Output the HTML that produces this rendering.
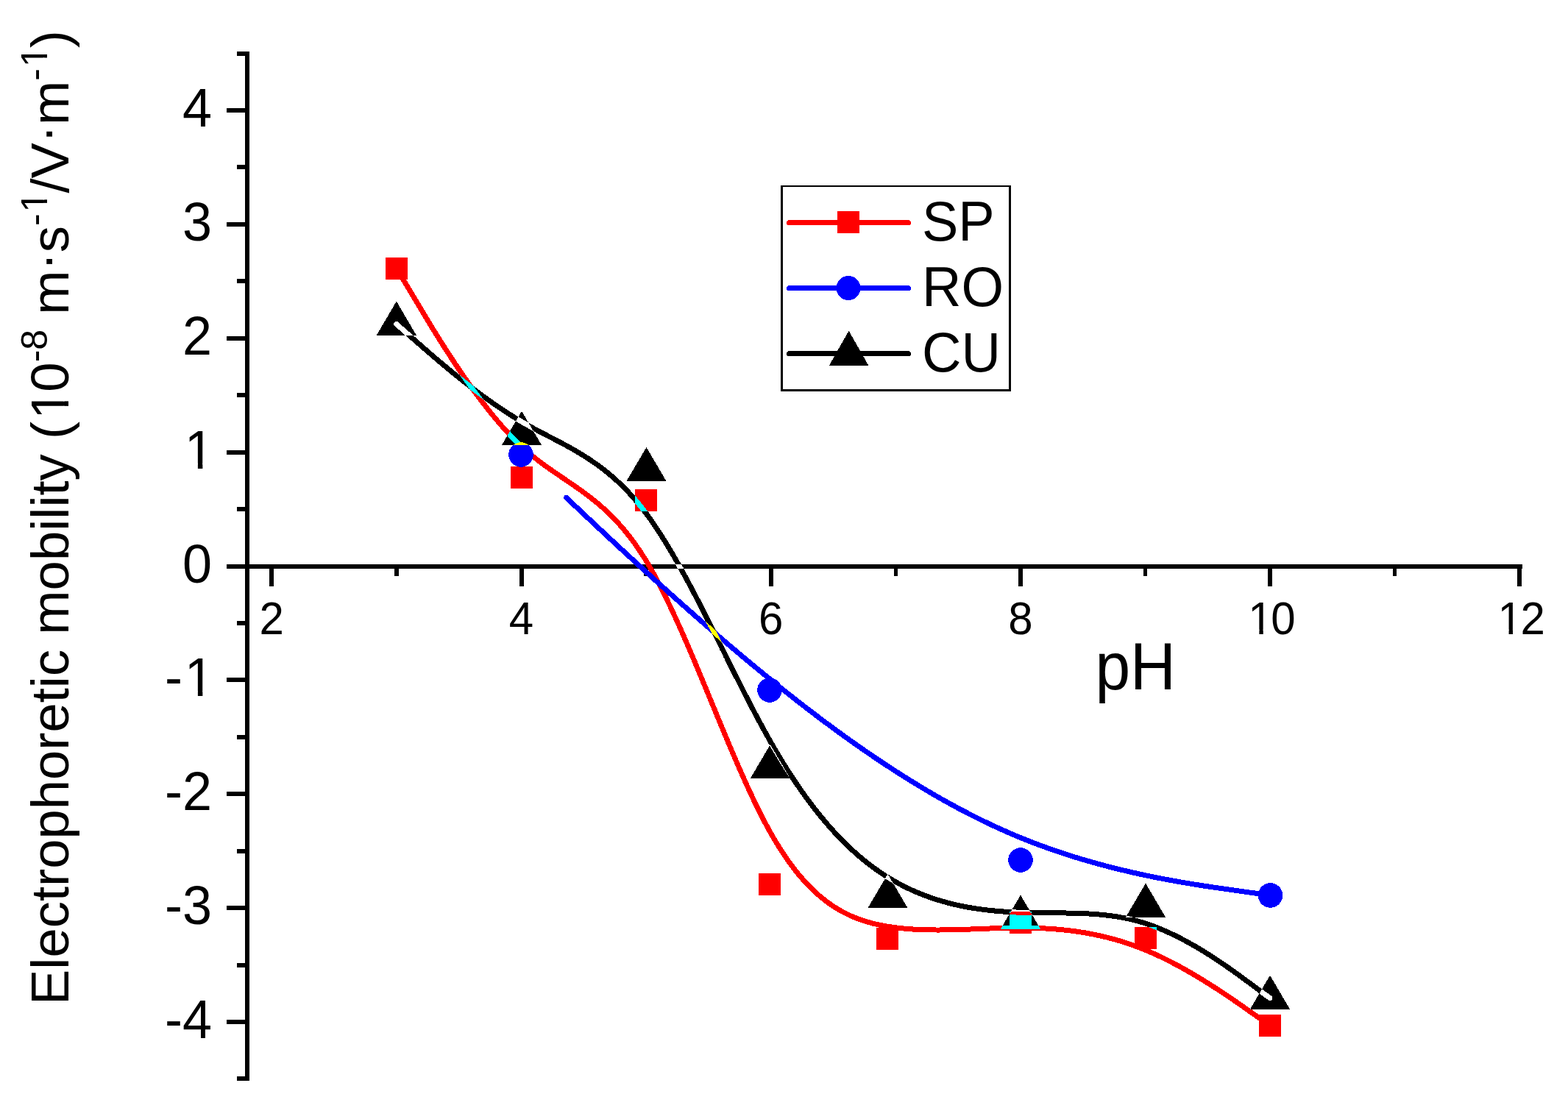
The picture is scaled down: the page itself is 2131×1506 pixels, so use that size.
<!DOCTYPE html><html><head><meta charset="utf-8"><style>
html,body{margin:0;padding:0;background:#fff;overflow:hidden;width:2131px;height:1506px;}
svg{display:block;} path,circle,line,rect{shape-rendering:crispEdges;}
text{font-family:"Liberation Sans",Arial,sans-serif;fill:#000;}
.x{mix-blend-mode:difference;}
</style></head><body>
<svg width="2131" height="1506" viewBox="0 0 2131 1506">
<rect x="0" y="0" width="2131" height="1506" fill="#fff"/>
<g fill="#000" shape-rendering="crispEdges"><rect x="333" y="70" width="6" height="1399"/><rect x="308" y="1386.0" width="25" height="6"/><rect x="308" y="1231.1" width="25" height="6"/><rect x="308" y="1076.2" width="25" height="6"/><rect x="308" y="921.4" width="25" height="6"/><rect x="308" y="766.5" width="25" height="6"/><rect x="308" y="611.6" width="25" height="6"/><rect x="308" y="456.8" width="25" height="6"/><rect x="308" y="301.9" width="25" height="6"/><rect x="308" y="147.0" width="25" height="6"/><rect x="322" y="1463.4" width="11" height="6"/><rect x="322" y="1308.6" width="11" height="6"/><rect x="322" y="1153.7" width="11" height="6"/><rect x="322" y="998.8" width="11" height="6"/><rect x="322" y="843.9" width="11" height="6"/><rect x="322" y="689.1" width="11" height="6"/><rect x="322" y="534.2" width="11" height="6"/><rect x="322" y="379.3" width="11" height="6"/><rect x="322" y="224.4" width="11" height="6"/><rect x="322" y="69.6" width="11" height="6"/><rect x="336" y="767" width="1733" height="6"/><rect x="366.3" y="773" width="6" height="24"/><rect x="705.5" y="773" width="6" height="24"/><rect x="1044.7" y="773" width="6" height="24"/><rect x="1383.9" y="773" width="6" height="24"/><rect x="1723.1" y="773" width="6" height="24"/><rect x="2062.3" y="773" width="6" height="24"/><rect x="536.1" y="773" width="5.5" height="10"/><rect x="875.3" y="773" width="5.5" height="10"/><rect x="1214.5" y="773" width="5.5" height="10"/><rect x="1553.8" y="773" width="5.5" height="10"/><rect x="1892.9" y="773" width="5.5" height="10"/></g>
<text transform="translate(288.00,1411.00) scale(1,1.020)" font-size="72.00" text-anchor="end">-4</text>
<text transform="translate(288.00,1256.12) scale(1,1.020)" font-size="72.00" text-anchor="end">-3</text>
<text transform="translate(288.00,1101.25) scale(1,1.020)" font-size="72.00" text-anchor="end">-2</text>
<text transform="translate(290.88,946.38) scale(1,1.020)" font-size="72.00" text-anchor="end">-<tspan dx="2.88">1</tspan></text>
<text transform="translate(288.00,791.50) scale(1,1.020)" font-size="72.00" text-anchor="end">0</text>
<text transform="translate(290.88,636.62) scale(1,1.020)" font-size="72.00" text-anchor="end">1</text>
<text transform="translate(288.00,481.75) scale(1,1.020)" font-size="72.00" text-anchor="end">2</text>
<text transform="translate(288.00,326.88) scale(1,1.020)" font-size="72.00" text-anchor="end">3</text>
<text transform="translate(288.00,172.00) scale(1,1.020)" font-size="72.00" text-anchor="end">4</text>
<text transform="translate(369.30,862.00) scale(1,1.040)" font-size="60.00" text-anchor="middle">2</text>
<text transform="translate(708.50,862.00) scale(1,1.040)" font-size="60.00" text-anchor="middle">4</text>
<text transform="translate(1047.70,862.00) scale(1,1.040)" font-size="60.00" text-anchor="middle">6</text>
<text transform="translate(1386.90,862.00) scale(1,1.040)" font-size="60.00" text-anchor="middle">8</text>
<text transform="translate(1726.10,862.00) scale(1,1.040)" font-size="60.00" text-anchor="middle"><tspan dx="2.40">1</tspan><tspan dx="-2.40">0</tspan></text>
<text transform="translate(2065.30,862.00) scale(1,1.040)" font-size="60.00" text-anchor="middle"><tspan dx="2.40">1</tspan><tspan dx="-2.40">2</tspan></text>
<text transform="translate(1488.40,937.00) scale(1,1.050)" font-size="85.70">pH</text>
<text transform="translate(93,1366) rotate(-90)" font-size="72.45">Electrophoretic mobility (<tspan dx="2.9">1</tspan><tspan dx="-2.9">0</tspan><tspan font-size="50" dy="-29">-8</tspan><tspan dy="29"> m</tspan><tspan dy="-5.6">·</tspan><tspan dy="5.6">s</tspan><tspan font-size="50" dy="-29">-</tspan><tspan font-size="50" dx="2">1</tspan><tspan dx="-2" dy="29">/V</tspan><tspan dy="-5.6">·</tspan><tspan dy="5.6">m</tspan><tspan font-size="50" dy="-29">-</tspan><tspan font-size="50" dx="2">1</tspan><tspan dx="-2" dy="29">)</tspan></text>
<g fill="#fff"><polygon points="254.31,939.26 268.89,939.26 268.89,947.91 254.31,947.91"/><polygon points="275.35,939.26 289.36,939.26 289.36,947.91 275.35,947.91"/><polygon points="254.31,629.50 268.89,629.50 268.89,638.15 254.31,638.15"/><polygon points="275.35,629.50 289.36,629.50 289.36,638.15 275.35,638.15"/><polygon points="1698.90,855.67 1711.37,855.67 1711.37,863.56 1698.90,863.56"/><polygon points="1716.77,855.67 1728.77,855.67 1728.77,863.56 1716.77,863.56"/><polygon points="2038.10,855.67 2050.57,855.67 2050.57,863.56 2038.10,863.56"/><polygon points="2055.97,855.67 2067.97,855.67 2067.97,863.56 2055.97,863.56"/><polygon points="85.99,566.50 85.99,551.85 94.50,551.85 94.50,566.50"/><polygon points="85.99,545.35 85.99,531.26 94.50,531.26 94.50,545.35"/><polygon points="58.66,286.58 58.66,275.87 65.50,275.87 65.50,286.58"/><polygon points="58.66,271.35 58.66,261.02 65.50,261.02 65.50,271.35"/><polygon points="58.66,89.19 58.66,78.47 65.50,78.47 65.50,89.19"/><polygon points="58.66,73.95 58.66,63.63 65.50,63.63 65.50,73.95"/></g>
<path d="M539.00 365.00 L539.00 365.00 L539.00 365.00 L539.00 365.00 L539.00 365.00 L539.00 365.00 L539.00 365.00 L539.00 365.01 L539.01 365.01 L539.01 365.01 L539.01 365.02 L539.02 365.03 L539.02 365.03 L539.03 365.04 L539.03 365.05 L539.04 365.07 L539.05 365.08 L539.06 365.10 L539.07 365.12 L539.08 365.14 L539.10 365.16 L539.11 365.19 L539.13 365.21 L539.15 365.24 L539.17 365.28 L539.19 365.31 L539.21 365.35 L539.24 365.39 L539.26 365.44 L539.29 365.49 L539.32 365.54 L539.36 365.60 L539.39 365.66 L539.43 365.72 L539.47 365.79 L539.51 365.86 L539.56 365.93 L539.61 366.01 L539.66 366.10 L539.71 366.19 L539.77 366.28 L539.83 366.38 L539.89 366.48 L539.95 366.59 L540.02 366.71 L540.09 366.82 L540.17 366.95 L540.24 367.08 L540.33 367.21 L540.41 367.36 L540.50 367.50 L540.59 367.66 L540.68 367.81 L540.78 367.98 L540.89 368.15 L540.99 368.33 L541.10 368.52 L541.22 368.71 L541.34 368.91 L541.46 369.11 L541.59 369.32 L541.72 369.54 L541.86 369.77 L542.00 370.01 L542.14 370.25 L542.29 370.50 L542.45 370.76 L542.60 371.02 L542.77 371.29 L542.94 371.58 L543.11 371.87 L543.29 372.16 L543.47 372.47 L543.66 372.79 L543.86 373.11 L544.06 373.45 L544.26 373.79 L544.47 374.14 L544.69 374.50 L544.91 374.87 L545.14 375.25 L545.37 375.64 L545.61 376.04 L545.85 376.45 L546.10 376.87 L546.36 377.29 L546.62 377.73 L546.89 378.18 L547.17 378.64 L547.45 379.11 L547.74 379.59 L548.03 380.09 L548.33 380.59 L548.64 381.10 L548.95 381.63 L549.27 382.16 L549.60 382.71 L549.94 383.27 L550.28 383.84 L550.63 384.42 L550.98 385.02 L551.35 385.63 L551.72 386.24 L552.09 386.88 L552.48 387.52 L552.87 388.17 L553.27 388.84 L553.68 389.52 L554.10 390.22 L554.52 390.92 L554.95 391.64 L555.39 392.38 L555.84 393.12 L556.29 393.89 L556.75 394.66 L557.22 395.45 L557.70 396.25 L558.19 397.06 L558.69 397.89 L559.19 398.73 L559.71 399.59 L560.23 400.46 L560.76 401.35 L561.30 402.25 L561.85 403.17 L562.40 404.10 L562.97 405.05 L563.55 406.01 L564.13 406.98 L564.72 407.97 L565.33 408.98 L565.94 410.00 L566.56 411.04 L567.19 412.10 L567.83 413.17 L568.48 414.25 L569.14 415.36 L569.81 416.47 L570.49 417.60 L571.18 418.75 L571.87 419.91 L572.58 421.09 L573.29 422.28 L574.02 423.48 L574.75 424.70 L575.49 425.94 L576.24 427.18 L577.00 428.44 L577.77 429.71 L578.54 430.99 L579.33 432.29 L580.12 433.60 L580.92 434.92 L581.73 436.25 L582.55 437.59 L583.38 438.95 L584.21 440.32 L585.05 441.69 L585.90 443.08 L586.76 444.48 L587.62 445.89 L588.49 447.30 L589.37 448.73 L590.26 450.17 L591.16 451.61 L592.06 453.07 L592.97 454.53 L593.88 456.01 L594.81 457.49 L595.74 458.98 L596.68 460.47 L597.62 461.98 L598.57 463.49 L599.53 465.01 L600.50 466.54 L601.47 468.07 L602.45 469.61 L603.43 471.15 L604.42 472.71 L605.42 474.26 L606.42 475.83 L607.43 477.39 L608.45 478.97 L609.47 480.55 L610.50 482.13 L611.54 483.72 L612.58 485.31 L613.62 486.91 L614.67 488.51 L615.73 490.11 L616.79 491.72 L617.86 493.33 L618.93 494.94 L620.01 496.55 L621.10 498.17 L622.19 499.79 L623.28 501.41 L624.38 503.04 L625.48 504.66 L626.59 506.29 L627.71 507.92 L628.83 509.55 L629.95 511.17 L631.08 512.80 L632.21 514.43 L633.35 516.06 L634.49 517.69 L635.63 519.32 L636.78 520.95 L637.94 522.58 L639.10 524.20 L640.26 525.83 L641.42 527.45 L642.59 529.07 L643.77 530.69 L644.95 532.30 L646.13 533.92 L647.31 535.53 L648.50 537.14 L649.69 538.74 L650.89 540.34 L652.09 541.94 L653.29 543.53 L654.49 545.12 L655.70 546.71 L656.91 548.29 L658.13 549.86 L659.34 551.43 L660.56 553.00 L661.79 554.56 L663.01 556.11 L664.24 557.66 L665.47 559.20 L666.70 560.74 L667.94 562.27 L669.17 563.79 L670.41 565.30 L671.65 566.81 L672.90 568.31 L674.14 569.80 L675.39 571.29 L676.64 572.76 L677.89 574.23 L679.14 575.69 L680.40 577.14 L681.66 578.58 L682.91 580.01 L684.17 581.43 L685.43 582.84 L686.69 584.24 L687.96 585.63 L689.22 587.01 L690.49 588.38 L691.75 589.74 L693.02 591.09 L694.29 592.43 L695.56 593.75 L696.82 595.06 L698.09 596.36 L699.37 597.65 L700.64 598.93 L701.91 600.19 L703.18 601.44 L704.45 602.68 L705.72 603.90 L707.00 605.11 L708.27 606.31 L709.54 607.49 L710.81 608.66 L712.08 609.81 L713.36 610.95 L714.63 612.08 L715.90 613.19 L717.17 614.29 L718.44 615.38 L719.72 616.46 L720.99 617.53 L722.26 618.58 L723.53 619.62 L724.80 620.66 L726.08 621.68 L727.35 622.69 L728.62 623.70 L729.89 624.69 L731.16 625.68 L732.43 626.65 L733.70 627.62 L734.97 628.58 L736.25 629.53 L737.52 630.47 L738.79 631.41 L740.06 632.34 L741.33 633.27 L742.60 634.18 L743.87 635.10 L745.14 636.00 L746.41 636.90 L747.68 637.80 L748.95 638.69 L750.22 639.58 L751.49 640.46 L752.77 641.34 L754.04 642.22 L755.31 643.09 L756.58 643.96 L757.85 644.83 L759.12 645.69 L760.39 646.55 L761.66 647.42 L762.93 648.28 L764.20 649.14 L765.47 650.00 L766.74 650.86 L768.01 651.72 L769.28 652.58 L770.54 653.44 L771.81 654.30 L773.08 655.16 L774.35 656.03 L775.62 656.89 L776.89 657.76 L778.16 658.63 L779.43 659.51 L780.70 660.38 L781.97 661.27 L783.24 662.15 L784.51 663.04 L785.78 663.93 L787.04 664.83 L788.31 665.74 L789.58 666.64 L790.85 667.56 L792.12 668.48 L793.39 669.41 L794.66 670.34 L795.92 671.28 L797.19 672.23 L798.46 673.19 L799.73 674.15 L801.00 675.12 L802.27 676.10 L803.53 677.09 L804.80 678.09 L806.07 679.10 L807.34 680.12 L808.61 681.14 L809.87 682.18 L811.14 683.23 L812.41 684.29 L813.68 685.36 L814.95 686.45 L816.21 687.54 L817.48 688.65 L818.75 689.77 L820.02 690.91 L821.28 692.05 L822.55 693.21 L823.82 694.39 L825.08 695.58 L826.35 696.78 L827.62 698.00 L828.89 699.23 L830.15 700.48 L831.42 701.74 L832.69 703.02 L833.95 704.32 L835.22 705.64 L836.49 706.97 L837.75 708.32 L839.02 709.68 L840.29 711.07 L841.55 712.47 L842.82 713.89 L844.09 715.33 L845.35 716.79 L846.62 718.27 L847.88 719.77 L849.15 721.29 L850.42 722.82 L851.68 724.39 L852.95 725.97 L854.21 727.57 L855.48 729.19 L856.75 730.84 L858.01 732.51 L859.28 734.20 L860.54 735.92 L861.81 737.66 L863.07 739.42 L864.34 741.21 L865.60 743.02 L866.87 744.85 L868.13 746.71 L869.40 748.60 L870.67 750.51 L871.93 752.44 L873.20 754.41 L874.46 756.40 L875.73 758.41 L876.99 760.46 L878.25 762.53 L879.52 764.63 L880.78 766.75 L882.05 768.90 L883.31 771.08 L884.58 773.29 L885.84 775.52 L887.11 777.77 L888.37 780.05 L889.64 782.36 L890.90 784.68 L892.16 787.04 L893.43 789.41 L894.69 791.81 L895.95 794.23 L897.22 796.67 L898.48 799.13 L899.75 801.62 L901.01 804.12 L902.27 806.65 L903.54 809.20 L904.80 811.76 L906.06 814.35 L907.32 816.95 L908.59 819.57 L909.85 822.21 L911.11 824.87 L912.37 827.55 L913.64 830.24 L914.90 832.94 L916.16 835.67 L917.42 838.41 L918.68 841.16 L919.94 843.93 L921.21 846.72 L922.47 849.52 L923.73 852.33 L924.99 855.15 L926.25 857.99 L927.51 860.84 L928.77 863.70 L930.03 866.58 L931.29 869.46 L932.55 872.36 L933.81 875.26 L935.07 878.18 L936.33 881.11 L937.59 884.04 L938.84 886.99 L940.10 889.94 L941.36 892.90 L942.62 895.87 L943.88 898.84 L945.13 901.83 L946.39 904.81 L947.65 907.81 L948.91 910.81 L950.16 913.82 L951.42 916.83 L952.68 919.84 L953.93 922.86 L955.19 925.89 L956.44 928.91 L957.70 931.94 L958.95 934.97 L960.21 938.01 L961.46 941.04 L962.72 944.08 L963.97 947.12 L965.23 950.16 L966.48 953.20 L967.73 956.23 L968.99 959.27 L970.24 962.31 L971.49 965.34 L972.74 968.38 L974.00 971.41 L975.25 974.44 L976.50 977.46 L977.75 980.48 L979.00 983.50 L980.25 986.52 L981.50 989.52 L982.75 992.53 L984.00 995.53 L985.25 998.52 L986.50 1001.51 L987.75 1004.49 L989.00 1007.46 L990.25 1010.42 L991.49 1013.38 L992.74 1016.33 L993.99 1019.27 L995.24 1022.20 L996.48 1025.13 L997.73 1028.04 L998.97 1030.94 L1000.22 1033.83 L1001.46 1036.71 L1002.71 1039.58 L1003.95 1042.44 L1005.20 1045.28 L1006.44 1048.12 L1007.68 1050.94 L1008.93 1053.74 L1010.17 1056.54 L1011.41 1059.31 L1012.65 1062.08 L1013.90 1064.83 L1015.14 1067.56 L1016.38 1070.28 L1017.62 1072.98 L1018.86 1075.66 L1020.10 1078.33 L1021.34 1080.98 L1022.58 1083.62 L1023.81 1086.23 L1025.05 1088.83 L1026.29 1091.40 L1027.53 1093.96 L1028.76 1096.50 L1030.00 1099.02 L1031.24 1101.51 L1032.47 1103.99 L1033.71 1106.45 L1034.94 1108.88 L1036.18 1111.29 L1037.41 1113.68 L1038.64 1116.04 L1039.88 1118.39 L1041.11 1120.71 L1042.34 1123.00 L1043.57 1125.27 L1044.80 1127.51 L1046.03 1129.73 L1047.26 1131.93 L1048.49 1134.10 L1049.72 1136.24 L1050.95 1138.37 L1052.18 1140.46 L1053.41 1142.53 L1054.64 1144.58 L1055.87 1146.60 L1057.09 1148.60 L1058.32 1150.58 L1059.55 1152.53 L1060.77 1154.46 L1062.00 1156.36 L1063.22 1158.25 L1064.45 1160.11 L1065.68 1161.94 L1066.90 1163.76 L1068.12 1165.55 L1069.35 1167.32 L1070.57 1169.06 L1071.80 1170.79 L1073.02 1172.49 L1074.25 1174.17 L1075.47 1175.83 L1076.69 1177.47 L1077.92 1179.08 L1079.14 1180.68 L1080.36 1182.25 L1081.59 1183.80 L1082.81 1185.33 L1084.03 1186.85 L1085.25 1188.34 L1086.48 1189.81 L1087.70 1191.26 L1088.92 1192.69 L1090.15 1194.10 L1091.37 1195.49 L1092.59 1196.86 L1093.81 1198.21 L1095.04 1199.54 L1096.26 1200.86 L1097.48 1202.15 L1098.71 1203.43 L1099.93 1204.69 L1101.15 1205.92 L1102.38 1207.14 L1103.60 1208.35 L1104.82 1209.53 L1106.05 1210.69 L1107.27 1211.84 L1108.49 1212.97 L1109.72 1214.09 L1110.94 1215.18 L1112.17 1216.26 L1113.39 1217.32 L1114.62 1218.37 L1115.84 1219.39 L1117.07 1220.40 L1118.29 1221.40 L1119.52 1222.38 L1120.75 1223.34 L1121.97 1224.29 L1123.20 1225.22 L1124.43 1226.13 L1125.66 1227.03 L1126.88 1227.92 L1128.11 1228.78 L1129.34 1229.64 L1130.57 1230.48 L1131.80 1231.30 L1133.03 1232.11 L1134.26 1232.90 L1135.49 1233.68 L1136.73 1234.45 L1137.96 1235.20 L1139.19 1235.94 L1140.42 1236.66 L1141.66 1237.38 L1142.89 1238.07 L1144.12 1238.76 L1145.36 1239.43 L1146.60 1240.09 L1147.83 1240.73 L1149.07 1241.36 L1150.31 1241.98 L1151.54 1242.59 L1152.78 1243.19 L1154.02 1243.77 L1155.26 1244.34 L1156.50 1244.90 L1157.74 1245.45 L1158.99 1245.98 L1160.23 1246.51 L1161.47 1247.02 L1162.71 1247.52 L1163.96 1248.02 L1165.21 1248.50 L1166.45 1248.97 L1167.70 1249.43 L1168.95 1249.88 L1170.19 1250.32 L1171.44 1250.75 L1172.69 1251.16 L1173.95 1251.57 L1175.20 1251.97 L1176.45 1252.37 L1177.70 1252.75 L1178.96 1253.12 L1180.21 1253.48 L1181.47 1253.84 L1182.73 1254.18 L1183.98 1254.52 L1185.24 1254.85 L1186.50 1255.17 L1187.76 1255.48 L1189.03 1255.79 L1190.29 1256.09 L1191.55 1256.38 L1192.82 1256.66 L1194.08 1256.93 L1195.35 1257.20 L1196.62 1257.46 L1197.89 1257.71 L1199.16 1257.96 L1200.43 1258.20 L1201.70 1258.43 L1202.97 1258.66 L1204.25 1258.88 L1205.52 1259.10 L1206.80 1259.31 L1208.08 1259.51 L1209.36 1259.71 L1210.64 1259.90 L1211.92 1260.09 L1213.20 1260.27 L1214.49 1260.45 L1215.77 1260.62 L1217.06 1260.79 L1218.34 1260.95 L1219.63 1261.11 L1220.92 1261.26 L1222.21 1261.41 L1223.50 1261.55 L1224.80 1261.69 L1226.09 1261.82 L1227.38 1261.95 L1228.68 1262.08 L1229.98 1262.20 L1231.27 1262.31 L1232.57 1262.42 L1233.87 1262.53 L1235.17 1262.63 L1236.47 1262.73 L1237.77 1262.82 L1239.08 1262.91 L1240.38 1263.00 L1241.68 1263.08 L1242.99 1263.16 L1244.30 1263.23 L1245.60 1263.30 L1246.91 1263.37 L1248.22 1263.43 L1249.53 1263.49 L1250.84 1263.54 L1252.15 1263.60 L1253.46 1263.65 L1254.78 1263.69 L1256.09 1263.73 L1257.40 1263.77 L1258.72 1263.81 L1260.03 1263.84 L1261.35 1263.87 L1262.67 1263.89 L1263.98 1263.92 L1265.30 1263.94 L1266.62 1263.95 L1267.94 1263.97 L1269.26 1263.98 L1270.58 1263.99 L1271.90 1264.00 L1273.22 1264.00 L1274.54 1264.00 L1275.86 1264.00 L1277.19 1264.00 L1278.51 1263.99 L1279.83 1263.98 L1281.16 1263.97 L1282.48 1263.96 L1283.81 1263.94 L1285.13 1263.93 L1286.46 1263.91 L1287.78 1263.89 L1289.11 1263.87 L1290.44 1263.84 L1291.77 1263.82 L1293.09 1263.79 L1294.42 1263.76 L1295.75 1263.73 L1297.08 1263.69 L1298.41 1263.66 L1299.74 1263.63 L1301.06 1263.59 L1302.39 1263.55 L1303.72 1263.51 L1305.05 1263.47 L1306.38 1263.43 L1307.71 1263.39 L1309.05 1263.34 L1310.38 1263.30 L1311.71 1263.25 L1313.04 1263.21 L1314.37 1263.16 L1315.70 1263.11 L1317.03 1263.06 L1318.36 1263.02 L1319.69 1262.97 L1321.03 1262.92 L1322.36 1262.87 L1323.69 1262.81 L1325.02 1262.76 L1326.35 1262.71 L1327.68 1262.66 L1329.01 1262.61 L1330.35 1262.56 L1331.68 1262.51 L1333.01 1262.45 L1334.34 1262.40 L1335.67 1262.35 L1337.00 1262.30 L1338.33 1262.25 L1339.66 1262.20 L1340.99 1262.15 L1342.32 1262.10 L1343.65 1262.05 L1344.98 1262.00 L1346.31 1261.95 L1347.64 1261.91 L1348.97 1261.86 L1350.30 1261.81 L1351.63 1261.77 L1352.96 1261.73 L1354.29 1261.68 L1355.62 1261.64 L1356.94 1261.60 L1358.27 1261.56 L1359.60 1261.52 L1360.93 1261.48 L1362.25 1261.45 L1363.58 1261.41 L1364.90 1261.38 L1366.23 1261.35 L1367.55 1261.32 L1368.88 1261.29 L1370.20 1261.27 L1371.52 1261.24 L1372.85 1261.22 L1374.17 1261.20 L1375.49 1261.18 L1376.81 1261.16 L1378.13 1261.14 L1379.45 1261.13 L1380.77 1261.12 L1382.09 1261.11 L1383.41 1261.11 L1384.73 1261.10 L1386.04 1261.10 L1387.36 1261.10 L1388.68 1261.10 L1389.99 1261.11 L1391.31 1261.12 L1392.62 1261.13 L1393.94 1261.14 L1395.25 1261.16 L1396.56 1261.17 L1397.87 1261.19 L1399.18 1261.22 L1400.49 1261.24 L1401.80 1261.27 L1403.11 1261.30 L1404.42 1261.34 L1405.73 1261.37 L1407.04 1261.41 L1408.35 1261.46 L1409.65 1261.50 L1410.96 1261.55 L1412.27 1261.60 L1413.57 1261.65 L1414.88 1261.71 L1416.18 1261.77 L1417.48 1261.83 L1418.79 1261.90 L1420.09 1261.97 L1421.39 1262.04 L1422.69 1262.11 L1423.99 1262.19 L1425.29 1262.27 L1426.59 1262.36 L1427.89 1262.44 L1429.19 1262.53 L1430.49 1262.63 L1431.79 1262.72 L1433.09 1262.82 L1434.38 1262.93 L1435.68 1263.03 L1436.98 1263.14 L1438.27 1263.26 L1439.57 1263.37 L1440.86 1263.49 L1442.16 1263.62 L1443.45 1263.74 L1444.75 1263.87 L1446.04 1264.01 L1447.33 1264.14 L1448.62 1264.28 L1449.92 1264.43 L1451.21 1264.57 L1452.50 1264.73 L1453.79 1264.88 L1455.08 1265.04 L1456.37 1265.20 L1457.66 1265.37 L1458.95 1265.54 L1460.24 1265.71 L1461.53 1265.89 L1462.81 1266.07 L1464.10 1266.25 L1465.39 1266.44 L1466.68 1266.63 L1467.96 1266.83 L1469.25 1267.03 L1470.54 1267.23 L1471.82 1267.44 L1473.11 1267.65 L1474.39 1267.87 L1475.68 1268.09 L1476.96 1268.31 L1478.24 1268.54 L1479.53 1268.77 L1480.81 1269.01 L1482.09 1269.25 L1483.38 1269.49 L1484.66 1269.74 L1485.94 1269.99 L1487.22 1270.25 L1488.50 1270.51 L1489.79 1270.78 L1491.07 1271.05 L1492.35 1271.32 L1493.63 1271.60 L1494.91 1271.88 L1496.19 1272.17 L1497.47 1272.46 L1498.75 1272.76 L1500.03 1273.06 L1501.31 1273.36 L1502.58 1273.67 L1503.86 1273.99 L1505.14 1274.30 L1506.42 1274.63 L1507.70 1274.96 L1508.97 1275.29 L1510.25 1275.62 L1511.53 1275.97 L1512.81 1276.31 L1514.08 1276.66 L1515.36 1277.02 L1516.63 1277.38 L1517.91 1277.74 L1519.19 1278.11 L1520.46 1278.49 L1521.74 1278.87 L1523.01 1279.25 L1524.29 1279.64 L1525.56 1280.04 L1526.84 1280.44 L1528.11 1280.84 L1529.39 1281.25 L1530.66 1281.67 L1531.94 1282.08 L1533.21 1282.51 L1534.48 1282.94 L1535.76 1283.37 L1537.03 1283.81 L1538.31 1284.26 L1539.58 1284.71 L1540.85 1285.16 L1542.13 1285.62 L1543.40 1286.09 L1544.67 1286.56 L1545.95 1287.04 L1547.22 1287.52 L1548.49 1288.01 L1549.76 1288.50 L1551.04 1289.00 L1552.31 1289.50 L1553.58 1290.01 L1554.85 1290.52 L1556.13 1291.04 L1557.40 1291.57 L1558.67 1292.10 L1559.94 1292.63 L1561.21 1293.18 L1562.49 1293.72 L1563.76 1294.27 L1565.03 1294.83 L1566.30 1295.39 L1567.57 1295.96 L1568.84 1296.53 L1570.11 1297.10 L1571.37 1297.69 L1572.64 1298.27 L1573.90 1298.86 L1575.17 1299.45 L1576.43 1300.05 L1577.70 1300.65 L1578.96 1301.26 L1580.22 1301.87 L1581.47 1302.48 L1582.73 1303.10 L1583.99 1303.72 L1585.24 1304.34 L1586.49 1304.97 L1587.74 1305.60 L1588.99 1306.24 L1590.24 1306.88 L1591.49 1307.52 L1592.73 1308.16 L1593.97 1308.81 L1595.21 1309.46 L1596.44 1310.11 L1597.68 1310.76 L1598.91 1311.42 L1600.14 1312.08 L1601.37 1312.74 L1602.59 1313.41 L1603.81 1314.08 L1605.03 1314.74 L1606.25 1315.42 L1607.46 1316.09 L1608.67 1316.76 L1609.88 1317.44 L1611.08 1318.12 L1612.29 1318.80 L1613.48 1319.48 L1614.68 1320.16 L1615.87 1320.84 L1617.06 1321.53 L1618.24 1322.21 L1619.42 1322.90 L1620.60 1323.59 L1621.77 1324.28 L1622.94 1324.97 L1624.11 1325.66 L1625.27 1326.35 L1626.43 1327.04 L1627.58 1327.73 L1628.73 1328.42 L1629.88 1329.11 L1631.02 1329.80 L1632.16 1330.49 L1633.29 1331.18 L1634.42 1331.88 L1635.54 1332.57 L1636.66 1333.26 L1637.77 1333.95 L1638.88 1334.64 L1639.99 1335.33 L1641.09 1336.01 L1642.18 1336.70 L1643.27 1337.39 L1644.35 1338.07 L1645.43 1338.76 L1646.51 1339.44 L1647.58 1340.12 L1648.64 1340.80 L1649.70 1341.48 L1650.75 1342.16 L1651.80 1342.83 L1652.84 1343.51 L1653.87 1344.18 L1654.90 1344.85 L1655.92 1345.51 L1656.94 1346.18 L1657.95 1346.84 L1658.96 1347.50 L1659.96 1348.16 L1660.95 1348.82 L1661.94 1349.47 L1662.91 1350.12 L1663.89 1350.77 L1664.86 1351.42 L1665.82 1352.06 L1666.77 1352.70 L1667.72 1353.33 L1668.66 1353.97 L1669.59 1354.60 L1670.51 1355.22 L1671.43 1355.85 L1672.34 1356.46 L1673.25 1357.08 L1674.15 1357.69 L1675.04 1358.30 L1675.92 1358.90 L1676.79 1359.50 L1677.66 1360.10 L1678.52 1360.69 L1679.37 1361.27 L1680.22 1361.86 L1681.06 1362.44 L1681.88 1363.01 L1682.71 1363.58 L1683.52 1364.14 L1684.32 1364.70 L1685.12 1365.25 L1685.91 1365.80 L1686.69 1366.35 L1687.46 1366.88 L1688.22 1367.42 L1688.98 1367.94 L1689.72 1368.47 L1690.46 1368.98 L1691.19 1369.49 L1691.91 1370.00 L1692.62 1370.50 L1693.32 1370.99 L1694.01 1371.48 L1694.70 1371.96 L1695.37 1372.43 L1696.03 1372.90 L1696.69 1373.36 L1697.34 1373.82 L1697.97 1374.27 L1698.60 1374.71 L1699.22 1375.14 L1699.83 1375.57 L1700.43 1375.99 L1701.02 1376.41 L1701.60 1376.82 L1702.17 1377.22 L1702.73 1377.62 L1703.29 1378.01 L1703.83 1378.39 L1704.37 1378.77 L1704.90 1379.14 L1705.42 1379.51 L1705.93 1379.86 L1706.43 1380.22 L1706.92 1380.57 L1707.41 1380.91 L1707.88 1381.24 L1708.35 1381.57 L1708.81 1381.90 L1709.26 1382.22 L1709.71 1382.53 L1710.14 1382.84 L1710.57 1383.14 L1710.99 1383.43 L1711.41 1383.72 L1711.81 1384.01 L1712.21 1384.29 L1712.60 1384.56 L1712.98 1384.83 L1713.36 1385.10 L1713.73 1385.36 L1714.09 1385.61 L1714.44 1385.86 L1714.79 1386.11 L1715.13 1386.34 L1715.46 1386.58 L1715.79 1386.81 L1716.11 1387.03 L1716.42 1387.25 L1716.72 1387.47 L1717.02 1387.68 L1717.32 1387.89 L1717.60 1388.09 L1717.88 1388.28 L1718.16 1388.48 L1718.42 1388.66 L1718.68 1388.85 L1718.94 1389.03 L1719.19 1389.20 L1719.43 1389.38 L1719.67 1389.54 L1719.90 1389.71 L1720.13 1389.86 L1720.35 1390.02 L1720.56 1390.17 L1720.77 1390.32 L1720.97 1390.46 L1721.17 1390.60 L1721.37 1390.74 L1721.55 1390.87 L1721.74 1391.00 L1721.91 1391.12 L1722.09 1391.24 L1722.25 1391.36 L1722.42 1391.48 L1722.58 1391.59 L1722.73 1391.70 L1722.88 1391.80 L1723.02 1391.90 L1723.16 1392.00 L1723.30 1392.10 L1723.43 1392.19 L1723.55 1392.28 L1723.68 1392.36 L1723.79 1392.45 L1723.91 1392.53 L1724.02 1392.60 L1724.12 1392.68 L1724.23 1392.75 L1724.32 1392.82 L1724.42 1392.89 L1724.51 1392.95 L1724.60 1393.01 L1724.68 1393.07 L1724.76 1393.13 L1724.84 1393.18 L1724.91 1393.24 L1724.99 1393.29 L1725.05 1393.33 L1725.12 1393.38 L1725.18 1393.42 L1725.24 1393.46 L1725.29 1393.50 L1725.35 1393.54 L1725.40 1393.58 L1725.44 1393.61 L1725.49 1393.64 L1725.53 1393.67 L1725.57 1393.70 L1725.61 1393.73 L1725.65 1393.75 L1725.68 1393.77 L1725.71 1393.80 L1725.74 1393.82 L1725.77 1393.83 L1725.79 1393.85 L1725.81 1393.87 L1725.84 1393.88 L1725.86 1393.90 L1725.87 1393.91 L1725.89 1393.92 L1725.90 1393.93 L1725.92 1393.94 L1725.93 1393.95 L1725.94 1393.96 L1725.95 1393.97 L1725.96 1393.97 L1725.97 1393.98 L1725.97 1393.98 L1725.98 1393.99 L1725.98 1393.99 L1725.99 1393.99 L1725.99 1393.99 L1725.99 1394.00 L1726.00 1394.00 L1726.00 1394.00 L1726.00 1394.00 L1726.00 1394.00 L1726.00 1394.00 L1726.00 1394.00 L1726.00 1394.00 L1726.00 1394.00" fill="none" stroke="#f00" stroke-width="7" stroke-linecap="round" stroke-linejoin="round"/>
<g fill="#f00" shape-rendering="crispEdges"><rect x="524.0" y="350.0" width="30" height="30"/><rect x="694.0" y="634.0" width="30" height="30"/><rect x="863.0" y="665.0" width="30" height="30"/><rect x="1031.0" y="1187.0" width="30" height="30"/><rect x="1191.0" y="1260.6" width="30" height="30"/><rect x="1372.0" y="1239.0" width="30" height="30"/><rect x="1542.0" y="1260.0" width="30" height="30"/><rect x="1711.0" y="1379.0" width="30" height="30"/></g>
<path d="M769.56 676.28 L770.16 676.85 L770.76 677.42 L771.37 677.99 L771.98 678.57 L772.59 679.15 L773.21 679.73 L773.83 680.32 L774.45 680.91 L775.08 681.50 L775.71 682.10 L776.35 682.70 L776.98 683.30 L777.63 683.91 L778.27 684.52 L778.92 685.13 L779.57 685.75 L780.23 686.37 L780.89 686.99 L781.55 687.62 L782.21 688.25 L782.88 688.88 L783.56 689.52 L784.23 690.15 L784.91 690.80 L785.60 691.44 L786.28 692.09 L786.97 692.74 L787.66 693.39 L788.36 694.05 L789.06 694.71 L789.76 695.37 L790.47 696.04 L791.18 696.71 L791.89 697.38 L792.61 698.05 L793.32 698.73 L794.05 699.41 L794.77 700.09 L795.50 700.78 L796.23 701.47 L796.97 702.16 L797.70 702.85 L798.45 703.55 L799.19 704.25 L799.94 704.95 L800.69 705.66 L801.44 706.36 L802.20 707.08 L802.96 707.79 L803.72 708.51 L804.49 709.22 L805.25 709.95 L806.03 710.67 L806.80 711.40 L807.58 712.13 L808.36 712.86 L809.14 713.59 L809.93 714.33 L810.72 715.07 L811.51 715.81 L812.30 716.56 L813.10 717.30 L813.90 718.05 L814.71 718.80 L815.51 719.56 L816.32 720.32 L817.14 721.07 L817.95 721.84 L818.77 722.60 L819.59 723.37 L820.41 724.14 L821.24 724.91 L822.07 725.68 L822.90 726.46 L823.74 727.24 L824.57 728.02 L825.41 728.80 L826.26 729.58 L827.10 730.37 L827.95 731.16 L828.80 731.95 L829.65 732.75 L830.51 733.54 L831.37 734.34 L832.23 735.14 L833.09 735.94 L833.96 736.75 L834.83 737.55 L835.70 738.36 L836.57 739.17 L837.45 739.99 L838.33 740.80 L839.21 741.62 L840.09 742.44 L840.98 743.26 L841.87 744.08 L842.76 744.91 L843.66 745.73 L844.55 746.56 L845.45 747.39 L846.35 748.23 L847.25 749.06 L848.16 749.90 L849.07 750.74 L849.98 751.58 L850.89 752.42 L851.81 753.26 L852.73 754.11 L853.65 754.96 L854.57 755.80 L855.49 756.66 L856.42 757.51 L857.35 758.36 L858.28 759.22 L859.21 760.08 L860.15 760.94 L861.09 761.80 L862.03 762.66 L862.97 763.52 L863.91 764.39 L864.86 765.26 L865.81 766.13 L866.76 767.00 L867.71 767.87 L868.67 768.74 L869.63 769.62 L870.59 770.50 L871.55 771.38 L872.51 772.26 L873.48 773.14 L874.44 774.02 L875.41 774.90 L876.38 775.79 L877.36 776.68 L878.33 777.57 L879.31 778.46 L880.29 779.35 L881.27 780.24 L882.26 781.13 L883.24 782.03 L884.23 782.92 L885.22 783.82 L886.21 784.72 L887.20 785.62 L888.20 786.52 L889.19 787.43 L890.19 788.33 L891.19 789.24 L892.19 790.14 L893.20 791.05 L894.20 791.96 L895.21 792.87 L896.22 793.78 L897.23 794.69 L898.24 795.60 L899.26 796.52 L900.27 797.43 L901.29 798.35 L902.31 799.27 L903.33 800.18 L904.35 801.10 L905.38 802.02 L906.40 802.95 L907.43 803.87 L908.46 804.79 L909.49 805.72 L910.52 806.64 L911.56 807.57 L912.59 808.49 L913.63 809.42 L914.67 810.35 L915.71 811.28 L916.75 812.21 L917.79 813.14 L918.84 814.07 L919.89 815.00 L920.93 815.94 L921.98 816.87 L923.03 817.80 L924.08 818.74 L925.14 819.68 L926.19 820.61 L927.25 821.55 L928.31 822.49 L929.36 823.43 L930.42 824.37 L931.49 825.31 L932.55 826.25 L933.61 827.19 L934.68 828.13 L935.75 829.07 L936.81 830.01 L937.88 830.96 L938.95 831.90 L940.03 832.84 L941.10 833.79 L942.17 834.73 L943.25 835.68 L944.32 836.62 L945.40 837.57 L946.48 838.52 L947.56 839.46 L948.64 840.41 L949.73 841.36 L950.81 842.31 L951.89 843.26 L952.98 844.21 L954.07 845.15 L955.15 846.10 L956.24 847.05 L957.33 848.00 L958.42 848.95 L959.51 849.90 L960.61 850.85 L961.70 851.80 L962.80 852.75 L963.89 853.70 L964.99 854.66 L966.09 855.61 L967.19 856.56 L968.29 857.51 L969.39 858.46 L970.49 859.41 L971.59 860.36 L972.69 861.31 L973.80 862.27 L974.90 863.22 L976.01 864.17 L977.11 865.12 L978.22 866.07 L979.33 867.02 L980.44 867.97 L981.55 868.92 L982.66 869.88 L983.77 870.83 L984.88 871.78 L985.99 872.73 L987.11 873.68 L988.22 874.63 L989.33 875.58 L990.45 876.53 L991.57 877.48 L992.68 878.43 L993.80 879.37 L994.92 880.32 L996.03 881.27 L997.15 882.22 L998.27 883.17 L999.39 884.12 L1000.51 885.06 L1001.64 886.01 L1002.76 886.96 L1003.88 887.90 L1005.00 888.85 L1006.13 889.79 L1007.25 890.74 L1008.37 891.68 L1009.50 892.62 L1010.62 893.57 L1011.75 894.51 L1012.87 895.45 L1014.00 896.39 L1015.13 897.33 L1016.25 898.27 L1017.38 899.21 L1018.51 900.15 L1019.64 901.09 L1020.77 902.03 L1021.89 902.97 L1023.02 903.90 L1024.15 904.84 L1025.28 905.78 L1026.41 906.71 L1027.54 907.64 L1028.67 908.58 L1029.80 909.51 L1030.94 910.44 L1032.07 911.37 L1033.20 912.30 L1034.33 913.23 L1035.46 914.16 L1036.59 915.09 L1037.72 916.02 L1038.86 916.94 L1039.99 917.87 L1041.12 918.79 L1042.25 919.71 L1043.39 920.64 L1044.52 921.56 L1045.65 922.48 L1046.78 923.40 L1047.92 924.31 L1049.05 925.23 L1050.18 926.15 L1051.31 927.06 L1052.45 927.98 L1053.58 928.89 L1054.71 929.80 L1055.85 930.72 L1056.98 931.63 L1058.11 932.53 L1059.24 933.44 L1060.38 934.35 L1061.51 935.26 L1062.64 936.16 L1063.78 937.07 L1064.91 937.97 L1066.04 938.87 L1067.18 939.77 L1068.31 940.67 L1069.44 941.57 L1070.58 942.47 L1071.71 943.37 L1072.84 944.26 L1073.98 945.16 L1075.11 946.05 L1076.24 946.94 L1077.38 947.83 L1078.51 948.72 L1079.64 949.61 L1080.78 950.50 L1081.91 951.39 L1083.04 952.27 L1084.18 953.16 L1085.31 954.04 L1086.44 954.92 L1087.58 955.81 L1088.71 956.69 L1089.85 957.57 L1090.98 958.44 L1092.11 959.32 L1093.25 960.20 L1094.38 961.07 L1095.51 961.94 L1096.65 962.82 L1097.78 963.69 L1098.92 964.56 L1100.05 965.43 L1101.18 966.29 L1102.32 967.16 L1103.45 968.03 L1104.59 968.89 L1105.72 969.75 L1106.85 970.62 L1107.99 971.48 L1109.12 972.34 L1110.26 973.20 L1111.39 974.05 L1112.53 974.91 L1113.66 975.76 L1114.79 976.62 L1115.93 977.47 L1117.06 978.32 L1118.20 979.17 L1119.33 980.02 L1120.47 980.87 L1121.60 981.71 L1122.74 982.56 L1123.87 983.40 L1125.00 984.25 L1126.14 985.09 L1127.27 985.93 L1128.41 986.77 L1129.54 987.60 L1130.68 988.44 L1131.81 989.28 L1132.95 990.11 L1134.08 990.94 L1135.22 991.77 L1136.35 992.61 L1137.49 993.43 L1138.62 994.26 L1139.75 995.09 L1140.89 995.91 L1142.02 996.74 L1143.16 997.56 L1144.29 998.38 L1145.43 999.20 L1146.56 1000.02 L1147.70 1000.84 L1148.83 1001.65 L1149.97 1002.47 L1151.10 1003.28 L1152.24 1004.09 L1153.37 1004.91 L1154.51 1005.71 L1155.64 1006.52 L1156.78 1007.33 L1157.91 1008.14 L1159.05 1008.94 L1160.18 1009.74 L1161.32 1010.54 L1162.45 1011.34 L1163.59 1012.14 L1164.72 1012.94 L1165.86 1013.74 L1166.99 1014.53 L1168.13 1015.33 L1169.27 1016.12 L1170.40 1016.91 L1171.54 1017.70 L1172.67 1018.49 L1173.81 1019.27 L1174.94 1020.06 L1176.08 1020.84 L1177.21 1021.62 L1178.35 1022.40 L1179.48 1023.18 L1180.62 1023.96 L1181.75 1024.74 L1182.89 1025.52 L1184.02 1026.29 L1185.16 1027.06 L1186.30 1027.83 L1187.43 1028.60 L1188.57 1029.37 L1189.70 1030.14 L1190.84 1030.90 L1191.97 1031.67 L1193.11 1032.43 L1194.24 1033.19 L1195.38 1033.95 L1196.52 1034.71 L1197.65 1035.47 L1198.79 1036.22 L1199.92 1036.98 L1201.06 1037.73 L1202.19 1038.48 L1203.33 1039.23 L1204.46 1039.98 L1205.60 1040.72 L1206.74 1041.47 L1207.87 1042.21 L1209.01 1042.95 L1210.14 1043.70 L1211.28 1044.43 L1212.41 1045.17 L1213.55 1045.91 L1214.69 1046.64 L1215.82 1047.38 L1216.96 1048.11 L1218.09 1048.84 L1219.23 1049.57 L1220.36 1050.29 L1221.50 1051.02 L1222.64 1051.74 L1223.77 1052.47 L1224.91 1053.19 L1226.04 1053.91 L1227.18 1054.62 L1228.31 1055.34 L1229.45 1056.05 L1230.59 1056.77 L1231.72 1057.48 L1232.86 1058.19 L1233.99 1058.90 L1235.13 1059.61 L1236.27 1060.31 L1237.40 1061.01 L1238.54 1061.72 L1239.67 1062.42 L1240.81 1063.12 L1241.95 1063.81 L1243.08 1064.51 L1244.22 1065.20 L1245.35 1065.90 L1246.49 1066.59 L1247.62 1067.28 L1248.76 1067.97 L1249.90 1068.65 L1251.03 1069.34 L1252.17 1070.02 L1253.30 1070.70 L1254.44 1071.38 L1255.58 1072.06 L1256.71 1072.74 L1257.85 1073.41 L1258.98 1074.08 L1260.12 1074.76 L1261.26 1075.43 L1262.39 1076.09 L1263.53 1076.76 L1264.66 1077.42 L1265.80 1078.09 L1266.94 1078.75 L1268.07 1079.41 L1269.21 1080.07 L1270.34 1080.72 L1271.48 1081.38 L1272.62 1082.03 L1273.75 1082.68 L1274.89 1083.33 L1276.02 1083.98 L1277.16 1084.63 L1278.29 1085.27 L1279.43 1085.92 L1280.57 1086.56 L1281.70 1087.20 L1282.84 1087.84 L1283.97 1088.47 L1285.11 1089.11 L1286.25 1089.74 L1287.38 1090.37 L1288.52 1091.00 L1289.65 1091.63 L1290.79 1092.25 L1291.93 1092.88 L1293.06 1093.50 L1294.20 1094.12 L1295.33 1094.74 L1296.47 1095.36 L1297.61 1095.97 L1298.74 1096.59 L1299.88 1097.20 L1301.01 1097.81 L1302.15 1098.42 L1303.29 1099.02 L1304.42 1099.63 L1305.56 1100.23 L1306.69 1100.83 L1307.83 1101.43 L1308.96 1102.03 L1310.10 1102.63 L1311.24 1103.22 L1312.37 1103.81 L1313.51 1104.40 L1314.64 1104.99 L1315.78 1105.58 L1316.92 1106.16 L1318.05 1106.75 L1319.19 1107.33 L1320.32 1107.91 L1321.46 1108.48 L1322.59 1109.06 L1323.73 1109.63 L1324.87 1110.21 L1326.00 1110.78 L1327.14 1111.34 L1328.27 1111.91 L1329.41 1112.48 L1330.54 1113.04 L1331.68 1113.60 L1332.82 1114.16 L1333.95 1114.72 L1335.09 1115.27 L1336.22 1115.82 L1337.36 1116.38 L1338.49 1116.93 L1339.63 1117.47 L1340.77 1118.02 L1341.90 1118.56 L1343.04 1119.11 L1344.17 1119.65 L1345.31 1120.18 L1346.44 1120.72 L1347.58 1121.26 L1348.72 1121.79 L1349.85 1122.32 L1350.99 1122.85 L1352.12 1123.37 L1353.26 1123.90 L1354.39 1124.42 L1355.53 1124.94 L1356.66 1125.46 L1357.80 1125.98 L1358.94 1126.50 L1360.07 1127.01 L1361.21 1127.52 L1362.34 1128.03 L1363.48 1128.54 L1364.61 1129.04 L1365.75 1129.55 L1366.88 1130.05 L1368.02 1130.55 L1369.15 1131.04 L1370.29 1131.54 L1371.42 1132.03 L1372.56 1132.52 L1373.70 1133.01 L1374.83 1133.50 L1375.97 1133.99 L1377.10 1134.47 L1378.24 1134.95 L1379.37 1135.43 L1380.51 1135.91 L1381.64 1136.39 L1382.78 1136.86 L1383.91 1137.33 L1385.05 1137.80 L1386.18 1138.27 L1387.32 1138.73 L1388.45 1139.20 L1389.59 1139.66 L1390.72 1140.12 L1391.86 1140.57 L1392.99 1141.03 L1394.13 1141.48 L1395.26 1141.93 L1396.40 1142.38 L1397.53 1142.83 L1398.67 1143.28 L1399.80 1143.72 L1400.93 1144.16 L1402.07 1144.60 L1403.20 1145.04 L1404.33 1145.47 L1405.47 1145.91 L1406.60 1146.34 L1407.73 1146.77 L1408.87 1147.19 L1410.00 1147.62 L1411.13 1148.04 L1412.26 1148.47 L1413.39 1148.89 L1414.52 1149.30 L1415.66 1149.72 L1416.79 1150.13 L1417.92 1150.55 L1419.05 1150.96 L1420.17 1151.36 L1421.30 1151.77 L1422.43 1152.18 L1423.56 1152.58 L1424.69 1152.98 L1425.82 1153.38 L1426.94 1153.78 L1428.07 1154.17 L1429.19 1154.56 L1430.32 1154.96 L1431.45 1155.35 L1432.57 1155.73 L1433.69 1156.12 L1434.82 1156.50 L1435.94 1156.89 L1437.06 1157.27 L1438.18 1157.65 L1439.30 1158.02 L1440.42 1158.40 L1441.54 1158.77 L1442.66 1159.14 L1443.78 1159.51 L1444.90 1159.88 L1446.02 1160.25 L1447.13 1160.61 L1448.25 1160.97 L1449.37 1161.34 L1450.48 1161.69 L1451.59 1162.05 L1452.71 1162.41 L1453.82 1162.76 L1454.93 1163.11 L1456.04 1163.46 L1457.15 1163.81 L1458.26 1164.16 L1459.37 1164.51 L1460.48 1164.85 L1461.58 1165.19 L1462.69 1165.53 L1463.79 1165.87 L1464.90 1166.21 L1466.00 1166.54 L1467.10 1166.87 L1468.20 1167.21 L1469.31 1167.54 L1470.40 1167.86 L1471.50 1168.19 L1472.60 1168.52 L1473.70 1168.84 L1474.79 1169.16 L1475.89 1169.48 L1476.98 1169.80 L1478.07 1170.12 L1479.17 1170.43 L1480.26 1170.75 L1481.35 1171.06 L1482.43 1171.37 L1483.52 1171.68 L1484.61 1171.98 L1485.69 1172.29 L1486.78 1172.59 L1487.86 1172.90 L1488.94 1173.20 L1490.02 1173.50 L1491.10 1173.79 L1492.18 1174.09 L1493.26 1174.38 L1494.33 1174.68 L1495.41 1174.97 L1496.48 1175.26 L1497.55 1175.55 L1498.62 1175.83 L1499.69 1176.12 L1500.76 1176.40 L1501.83 1176.68 L1502.89 1176.97 L1503.96 1177.24 L1505.02 1177.52 L1506.08 1177.80 L1507.14 1178.07 L1508.20 1178.35 L1509.26 1178.62 L1510.31 1178.89 L1511.37 1179.16 L1512.42 1179.42 L1513.47 1179.69 L1514.52 1179.95 L1515.57 1180.22 L1516.62 1180.48 L1517.66 1180.74 L1518.71 1181.00 L1519.75 1181.25 L1520.79 1181.51 L1521.83 1181.76 L1522.87 1182.02 L1523.91 1182.27 L1524.94 1182.52 L1525.97 1182.77 L1527.01 1183.01 L1528.04 1183.26 L1529.06 1183.50 L1530.09 1183.75 L1531.12 1183.99 L1532.14 1184.23 L1533.16 1184.47 L1534.18 1184.70 L1535.20 1184.94 L1536.22 1185.18 L1537.23 1185.41 L1538.25 1185.64 L1539.26 1185.87 L1540.27 1186.10 L1541.28 1186.33 L1542.28 1186.56 L1543.29 1186.78 L1544.29 1187.01 L1545.29 1187.23 L1546.29 1187.45 L1547.29 1187.67 L1548.28 1187.89 L1549.27 1188.11 L1550.27 1188.32 L1551.25 1188.54 L1552.24 1188.75 L1553.23 1188.96 L1554.21 1189.17 L1555.19 1189.38 L1556.17 1189.59 L1557.15 1189.80 L1558.13 1190.01 L1559.10 1190.21 L1560.07 1190.42 L1561.04 1190.62 L1562.01 1190.82 L1562.98 1191.02 L1563.94 1191.22 L1564.90 1191.42 L1565.86 1191.61 L1566.82 1191.81 L1567.77 1192.00 L1568.73 1192.19 L1569.68 1192.39 L1570.63 1192.58 L1571.57 1192.76 L1572.52 1192.95 L1573.46 1193.14 L1574.40 1193.33 L1575.34 1193.51 L1576.27 1193.69 L1577.21 1193.88 L1578.14 1194.06 L1579.07 1194.24 L1579.99 1194.42 L1580.92 1194.59 L1581.84 1194.77 L1582.76 1194.95 L1583.67 1195.12 L1584.59 1195.29 L1585.50 1195.47 L1586.41 1195.64 L1587.32 1195.81 L1588.23 1195.98 L1589.13 1196.14 L1590.03 1196.31 L1590.93 1196.48 L1591.82 1196.64 L1592.72 1196.80 L1593.61 1196.97 L1594.50 1197.13 L1595.38 1197.29 L1596.26 1197.45 L1597.15 1197.61 L1598.02 1197.76 L1598.90 1197.92 L1599.77 1198.07 L1600.64 1198.23 L1601.51 1198.38 L1602.38 1198.53 L1603.24 1198.68 L1604.10 1198.84 L1604.96 1198.98 L1605.81 1199.13 L1606.66 1199.28 L1607.51 1199.43 L1608.36 1199.57 L1609.20 1199.72 L1610.05 1199.86 L1610.88 1200.00 L1611.72 1200.14 L1612.55 1200.28 L1613.38 1200.42 L1614.21 1200.56 L1615.04 1200.70 L1615.86 1200.84 L1616.68 1200.97 L1617.50 1201.11 L1618.31 1201.24 L1619.12 1201.37 L1619.93 1201.51 L1620.73 1201.64 L1621.54 1201.77 L1622.33 1201.90 L1623.13 1202.03 L1623.92 1202.15 L1624.72 1202.28 L1625.50 1202.41 L1626.29 1202.53 L1627.07 1202.66 L1627.85 1202.78 L1628.62 1202.90 L1629.40 1203.02 L1630.17 1203.14 L1630.93 1203.26 L1631.70 1203.38 L1632.46 1203.50 L1633.21 1203.62 L1633.97 1203.74 L1634.72 1203.85 L1635.47 1203.97 L1636.21 1204.08 L1636.95 1204.20 L1637.69 1204.31 L1638.43 1204.42 L1639.16 1204.53 L1639.89 1204.64 L1640.62 1204.75 L1641.34 1204.86 L1642.06 1204.97 L1642.78 1205.08 L1643.49 1205.18 L1644.20 1205.29 L1644.91 1205.40 L1645.61 1205.50 L1646.31 1205.60 L1647.01 1205.71 L1647.70 1205.81 L1648.39 1205.91 L1649.08 1206.01 L1649.76 1206.11 L1650.44 1206.21 L1651.12 1206.31 L1651.79 1206.41 L1652.46 1206.51 L1653.12 1206.60 L1653.79 1206.70 L1654.45 1206.79 L1655.10 1206.89 L1655.76 1206.98 L1656.40 1207.08 L1657.05 1207.17 L1657.69 1207.26 L1658.33 1207.35 L1658.97 1207.44 L1659.60 1207.54 L1660.22 1207.62 L1660.85 1207.71 L1661.47 1207.80 L1662.09 1207.89 L1662.70 1207.98 L1663.31 1208.06 L1663.92 1208.15 L1664.52 1208.24 L1665.12 1208.32 L1665.71 1208.41 L1666.30 1208.49 L1666.89 1208.57 L1667.48 1208.65 L1668.06 1208.74 L1668.63 1208.82 L1669.21 1208.90 L1669.77 1208.98 L1670.34 1209.06 L1670.90 1209.14 L1671.46 1209.22 L1672.01 1209.30 L1672.56 1209.37 L1673.11 1209.45 L1673.65 1209.53 L1674.19 1209.60 L1674.73 1209.68 L1675.26 1209.76 L1675.79 1209.83 L1676.31 1209.90 L1676.83 1209.98 L1677.35 1210.05 L1677.87 1210.12 L1678.38 1210.20 L1678.88 1210.27 L1679.39 1210.34 L1679.88 1210.41 L1680.38 1210.48 L1680.87 1210.55 L1681.36 1210.62 L1681.85 1210.69 L1682.33 1210.75 L1682.81 1210.82 L1683.28 1210.89 L1683.75 1210.96 L1684.22 1211.02 L1684.69 1211.09 L1685.15 1211.15 L1685.61 1211.22 L1686.06 1211.28 L1686.51 1211.35 L1686.96 1211.41 L1687.40 1211.47 L1687.84 1211.53 L1688.28 1211.60 L1688.72 1211.66 L1689.15 1211.72 L1689.57 1211.78 L1690.00 1211.84 L1690.42 1211.90 L1690.84 1211.96 L1691.25 1212.02 L1691.66 1212.07 L1692.07 1212.13 L1692.48 1212.19 L1692.88 1212.25 L1693.28 1212.30 L1693.67 1212.36 L1694.07 1212.41 L1694.45 1212.47 L1694.84 1212.52 L1695.22 1212.58 L1695.60 1212.63 L1695.98 1212.68 L1696.35 1212.74 L1696.72 1212.79 L1697.09 1212.84 L1697.46 1212.89 L1697.82 1212.94 L1698.18 1213.00 L1698.53 1213.05 L1698.88 1213.10 L1699.23 1213.15 L1699.58 1213.19 L1699.92 1213.24 L1700.27 1213.29 L1700.60 1213.34 L1700.94 1213.39 L1701.27 1213.43 L1701.60 1213.48 L1701.93 1213.53 L1702.25 1213.57 L1702.57 1213.62 L1702.89 1213.66 L1703.20 1213.71 L1703.51 1213.75 L1703.82 1213.79 L1704.13 1213.84 L1704.43 1213.88 L1704.73 1213.92 L1705.03 1213.96 L1705.33 1214.01 L1705.62 1214.05 L1705.91 1214.09 L1706.20 1214.13 L1706.48 1214.17 L1706.76 1214.21 L1707.04 1214.25 L1707.32 1214.29 L1707.59 1214.33 L1707.87 1214.37 L1708.13 1214.40 L1708.40 1214.44 L1708.66 1214.48 L1708.92 1214.52 L1709.18 1214.55 L1709.44 1214.59 L1709.69 1214.62 L1709.94 1214.66 L1710.19 1214.69 L1710.44 1214.73 L1710.68 1214.76 L1710.92 1214.80 L1711.16 1214.83 L1711.40 1214.86 L1711.63 1214.90 L1711.86 1214.93 L1712.09 1214.96 L1712.32 1214.99 L1712.54 1215.03 L1712.76 1215.06 L1712.98 1215.09 L1713.20 1215.12 L1713.41 1215.15 L1713.62 1215.18 L1713.83 1215.21 L1714.04 1215.24 L1714.25 1215.27 L1714.45 1215.30 L1714.65 1215.32 L1714.85 1215.35 L1715.05 1215.38 L1715.24 1215.41 L1715.43 1215.44 L1715.62 1215.46 L1715.81 1215.49 L1715.99 1215.51 L1716.18 1215.54 L1716.36 1215.57 L1716.54 1215.59 L1716.72 1215.62 L1716.89 1215.64 L1717.06 1215.67 L1717.23 1215.69 L1717.40 1215.71 L1717.57 1215.74 L1717.73 1215.76 L1717.89 1215.78 L1718.05 1215.81 L1718.21 1215.83 L1718.37 1215.85 L1718.52 1215.87 L1718.68 1215.89 L1718.83 1215.92 L1718.98 1215.94 L1719.12 1215.96 L1719.27 1215.98 L1719.41 1216.00 L1719.55 1216.02 L1719.69 1216.04 L1719.83 1216.06 L1719.96 1216.08 L1720.10 1216.09 L1720.23 1216.11 L1720.36 1216.13 L1720.48 1216.15 L1720.61 1216.17 L1720.74 1216.18 L1720.86 1216.20 L1720.98 1216.22 L1721.10 1216.24 L1721.22 1216.25 L1721.33 1216.27 L1721.44 1216.29 L1721.56 1216.30 L1721.67 1216.32 L1721.78 1216.33 L1721.88 1216.35 L1721.99 1216.36 L1722.09 1216.38 L1722.20 1216.39 L1722.30 1216.41 L1722.40 1216.42 L1722.49 1216.43 L1722.59 1216.45 L1722.69 1216.46 L1722.78 1216.47 L1722.87 1216.49 L1722.96 1216.50 L1723.05 1216.51 L1723.14 1216.52 L1723.22 1216.54 L1723.30 1216.55 L1723.39 1216.56 L1723.47 1216.57 L1723.55 1216.58 L1723.63 1216.59 L1723.70 1216.60 L1723.78 1216.62 L1723.85 1216.63 L1723.93 1216.64 L1724.00 1216.65 L1724.07 1216.66 L1724.14 1216.67 L1724.20 1216.68 L1724.27 1216.68 L1724.34 1216.69 L1724.40 1216.70 L1724.46 1216.71 L1724.52 1216.72 L1724.58 1216.73 L1724.64 1216.74 L1724.70 1216.75 L1724.76 1216.75 L1724.81 1216.76 L1724.86 1216.77 L1724.92 1216.78 L1724.97 1216.78 L1725.02 1216.79 L1725.07 1216.80 L1725.12 1216.80 L1725.16 1216.81 L1725.21 1216.82 L1725.25 1216.82 L1725.30 1216.83 L1725.34 1216.84 L1725.38 1216.84 L1725.42 1216.85 L1725.46 1216.85 L1725.50 1216.86 L1725.54 1216.86 L1725.58 1216.87 L1725.61 1216.87 L1725.65 1216.88 L1725.68 1216.88 L1725.72 1216.89 L1725.75 1216.89 L1725.78 1216.90 L1725.81 1216.90 L1725.84 1216.91 L1725.87 1216.91 L1725.90 1216.91 L1725.92 1216.92 L1725.95 1216.92 L1725.97 1216.93 L1726.00 1216.93 L1726.02 1216.93 L1726.05 1216.94 L1726.07 1216.94 L1726.09 1216.94 L1726.11 1216.94 L1726.13 1216.95 L1726.15 1216.95 L1726.17 1216.95 L1726.19 1216.96 L1726.20 1216.96 L1726.22 1216.96 L1726.24 1216.96 L1726.25 1216.97 L1726.27 1216.97 L1726.28 1216.97 L1726.30 1216.97 L1726.31 1216.97 L1726.32 1216.97 L1726.33 1216.98 L1726.34 1216.98 L1726.36 1216.98 L1726.37 1216.98 L1726.38 1216.98 L1726.38 1216.98 L1726.39 1216.98 L1726.40 1216.99 L1726.41 1216.99 L1726.42 1216.99 L1726.42 1216.99 L1726.43 1216.99 L1726.44 1216.99 L1726.44 1216.99 L1726.45 1216.99 L1726.45 1216.99 L1726.46 1216.99 L1726.46 1216.99 L1726.47 1217.00 L1726.47 1217.00 L1726.47 1217.00 L1726.48 1217.00 L1726.48 1217.00 L1726.48 1217.00 L1726.49 1217.00 L1726.49 1217.00 L1726.49 1217.00 L1726.49 1217.00 L1726.49 1217.00 L1726.49 1217.00 L1726.50 1217.00 L1726.50 1217.00 L1726.50 1217.00 L1726.50 1217.00 L1726.50 1217.00 L1726.50 1217.00 L1726.50 1217.00 L1726.50 1217.00 L1726.50 1217.00 L1726.50 1217.00 L1726.50 1217.00 L1726.50 1217.00 L1726.50 1217.00 L1726.50 1217.00" fill="none" stroke="#00f" stroke-width="7" stroke-linecap="round" stroke-linejoin="round"/>
<g fill="#00f"><circle cx="708.0" cy="618.0" r="16.8"/><circle cx="1046.0" cy="938.0" r="16.8"/><circle cx="1387.0" cy="1169.0" r="16.8"/><circle cx="1726.5" cy="1217.0" r="16.8"/></g>
<path class="x" d="M538.8 409.6L565.8 455.6L511.8 455.6ZM709.0 558.8L736.0 604.8L682.0 604.8ZM878.5 607.9L905.5 653.9L851.5 653.9ZM1046.8 1012.0L1073.8 1058.0L1019.8 1058.0ZM1206.5 1188.0L1233.5 1234.0L1179.5 1234.0ZM1387.0 1216.6L1414.0 1262.6L1360.0 1262.6ZM1557.0 1200.6L1584.0 1246.6L1530.0 1246.6ZM1726.0 1325.7L1753.0 1371.7L1699.0 1371.7Z" fill="#fff"/>
<path class="x" d="M538.80 440.60 L538.80 440.60 L538.80 440.60 L538.80 440.60 L538.80 440.60 L538.80 440.60 L538.80 440.60 L538.80 440.60 L538.81 440.61 L538.81 440.61 L538.81 440.61 L538.82 440.61 L538.82 440.62 L538.83 440.62 L538.83 440.63 L538.84 440.64 L538.85 440.64 L538.86 440.65 L538.87 440.66 L538.88 440.67 L538.90 440.68 L538.91 440.70 L538.93 440.71 L538.95 440.73 L538.97 440.75 L538.99 440.76 L539.01 440.78 L539.04 440.81 L539.06 440.83 L539.09 440.86 L539.12 440.88 L539.16 440.91 L539.19 440.94 L539.23 440.98 L539.27 441.01 L539.31 441.05 L539.36 441.09 L539.41 441.13 L539.46 441.18 L539.51 441.22 L539.57 441.27 L539.63 441.32 L539.69 441.38 L539.75 441.44 L539.82 441.50 L539.89 441.56 L539.97 441.62 L540.05 441.69 L540.13 441.76 L540.21 441.84 L540.30 441.91 L540.39 442.00 L540.49 442.08 L540.59 442.17 L540.69 442.26 L540.80 442.35 L540.91 442.45 L541.02 442.55 L541.14 442.65 L541.26 442.76 L541.39 442.87 L541.52 442.99 L541.66 443.11 L541.80 443.23 L541.94 443.36 L542.09 443.49 L542.25 443.62 L542.41 443.76 L542.57 443.91 L542.74 444.05 L542.92 444.21 L543.09 444.36 L543.28 444.53 L543.47 444.69 L543.66 444.86 L543.86 445.04 L544.07 445.22 L544.28 445.40 L544.49 445.59 L544.72 445.79 L544.94 445.98 L545.18 446.19 L545.41 446.40 L545.66 446.61 L545.91 446.83 L546.17 447.06 L546.43 447.29 L546.70 447.53 L546.98 447.77 L547.26 448.01 L547.55 448.27 L547.84 448.53 L548.14 448.79 L548.45 449.06 L548.76 449.34 L549.09 449.62 L549.41 449.90 L549.75 450.20 L550.09 450.50 L550.44 450.80 L550.80 451.12 L551.16 451.44 L551.53 451.76 L551.91 452.09 L552.30 452.43 L552.69 452.77 L553.09 453.13 L553.50 453.48 L553.91 453.85 L554.34 454.22 L554.77 454.60 L555.21 454.98 L555.66 455.38 L556.11 455.77 L556.57 456.18 L557.05 456.59 L557.53 457.02 L558.01 457.44 L558.51 457.88 L559.02 458.32 L559.53 458.77 L560.05 459.23 L560.59 459.70 L561.13 460.17 L561.67 460.65 L562.23 461.14 L562.80 461.64 L563.37 462.14 L563.96 462.66 L564.55 463.18 L565.16 463.71 L565.77 464.24 L566.39 464.79 L567.02 465.34 L567.67 465.90 L568.32 466.48 L568.98 467.05 L569.65 467.64 L570.33 468.24 L571.02 468.84 L571.71 469.45 L572.42 470.07 L573.14 470.69 L573.86 471.33 L574.59 471.97 L575.34 472.62 L576.09 473.27 L576.85 473.93 L577.61 474.60 L578.39 475.28 L579.18 475.96 L579.97 476.65 L580.77 477.35 L581.58 478.05 L582.40 478.76 L583.23 479.47 L584.06 480.19 L584.90 480.92 L585.75 481.65 L586.61 482.39 L587.48 483.14 L588.35 483.89 L589.23 484.64 L590.12 485.40 L591.02 486.17 L591.92 486.94 L592.83 487.72 L593.75 488.50 L594.67 489.29 L595.61 490.08 L596.55 490.87 L597.49 491.67 L598.44 492.48 L599.40 493.29 L600.37 494.10 L601.34 494.92 L602.32 495.74 L603.31 496.56 L604.30 497.39 L605.30 498.22 L606.31 499.06 L607.32 499.90 L608.34 500.74 L609.36 501.59 L610.39 502.44 L611.42 503.29 L612.47 504.15 L613.51 505.00 L614.57 505.86 L615.62 506.73 L616.69 507.59 L617.76 508.46 L618.83 509.33 L619.91 510.21 L621.00 511.08 L622.09 511.96 L623.18 512.84 L624.29 513.72 L625.39 514.60 L626.50 515.49 L627.62 516.37 L628.74 517.26 L629.86 518.15 L630.99 519.04 L632.13 519.93 L633.27 520.82 L634.41 521.71 L635.56 522.60 L636.71 523.50 L637.86 524.39 L639.02 525.28 L640.19 526.18 L641.36 527.07 L642.53 527.97 L643.70 528.86 L644.88 529.76 L646.07 530.65 L647.25 531.55 L648.44 532.44 L649.64 533.34 L650.83 534.23 L652.03 535.12 L653.24 536.01 L654.44 536.90 L655.65 537.79 L656.87 538.68 L658.08 539.57 L659.30 540.45 L660.52 541.34 L661.75 542.22 L662.98 543.10 L664.21 543.98 L665.44 544.85 L666.67 545.73 L667.91 546.60 L669.15 547.47 L670.39 548.34 L671.63 549.21 L672.88 550.07 L674.13 550.93 L675.38 551.79 L676.63 552.64 L677.88 553.50 L679.14 554.34 L680.39 555.19 L681.65 556.03 L682.91 556.87 L684.17 557.71 L685.44 558.54 L686.70 559.37 L687.97 560.19 L689.23 561.01 L690.50 561.83 L691.77 562.64 L693.04 563.45 L694.31 564.26 L695.58 565.06 L696.85 565.85 L698.12 566.64 L699.40 567.43 L700.67 568.21 L701.94 568.98 L703.22 569.75 L704.49 570.52 L705.77 571.28 L707.04 572.04 L708.32 572.79 L709.59 573.53 L710.87 574.27 L712.14 575.00 L713.42 575.73 L714.69 576.45 L715.97 577.17 L717.24 577.88 L718.52 578.59 L719.79 579.30 L721.06 580.00 L722.34 580.70 L723.61 581.39 L724.89 582.08 L726.16 582.77 L727.44 583.45 L728.71 584.13 L729.99 584.81 L731.26 585.49 L732.53 586.16 L733.81 586.83 L735.08 587.50 L736.36 588.17 L737.63 588.84 L738.90 589.50 L740.18 590.17 L741.45 590.83 L742.73 591.49 L744.00 592.15 L745.27 592.82 L746.55 593.48 L747.82 594.14 L749.09 594.80 L750.37 595.46 L751.64 596.13 L752.91 596.79 L754.19 597.46 L755.46 598.12 L756.73 598.79 L758.01 599.46 L759.28 600.13 L760.55 600.80 L761.83 601.48 L763.10 602.15 L764.37 602.83 L765.65 603.52 L766.92 604.20 L768.19 604.89 L769.47 605.58 L770.74 606.28 L772.01 606.98 L773.28 607.68 L774.56 608.39 L775.83 609.10 L777.10 609.81 L778.37 610.54 L779.65 611.26 L780.92 611.99 L782.19 612.73 L783.46 613.47 L784.74 614.21 L786.01 614.97 L787.28 615.73 L788.55 616.49 L789.82 617.26 L791.10 618.04 L792.37 618.82 L793.64 619.62 L794.91 620.42 L796.18 621.22 L797.46 622.03 L798.73 622.86 L800.00 623.69 L801.27 624.52 L802.54 625.37 L803.81 626.22 L805.08 627.09 L806.36 627.96 L807.63 628.84 L808.90 629.73 L810.17 630.63 L811.44 631.54 L812.71 632.46 L813.98 633.39 L815.25 634.33 L816.52 635.28 L817.79 636.24 L819.07 637.21 L820.34 638.19 L821.61 639.19 L822.88 640.19 L824.15 641.21 L825.42 642.24 L826.69 643.28 L827.96 644.33 L829.23 645.40 L830.50 646.47 L831.77 647.56 L833.04 648.67 L834.31 649.78 L835.58 650.91 L836.85 652.06 L838.12 653.21 L839.39 654.39 L840.66 655.57 L841.93 656.77 L843.20 657.98 L844.47 659.21 L845.74 660.46 L847.01 661.71 L848.28 662.99 L849.55 664.28 L850.82 665.58 L852.08 666.90 L853.35 668.24 L854.62 669.59 L855.89 670.96 L857.16 672.35 L858.43 673.75 L859.70 675.17 L860.97 676.61 L862.24 678.06 L863.50 679.53 L864.77 681.02 L866.04 682.53 L867.31 684.06 L868.58 685.60 L869.85 687.16 L871.11 688.74 L872.38 690.34 L873.65 691.96 L874.92 693.60 L876.19 695.26 L877.45 696.94 L878.72 698.63 L879.99 700.35 L881.26 702.09 L882.53 703.85 L883.79 705.62 L885.06 707.42 L886.33 709.23 L887.60 711.06 L888.86 712.91 L890.13 714.78 L891.40 716.67 L892.66 718.57 L893.93 720.49 L895.20 722.43 L896.46 724.38 L897.73 726.35 L899.00 728.34 L900.26 730.34 L901.53 732.36 L902.79 734.39 L904.06 736.44 L905.33 738.51 L906.59 740.58 L907.86 742.68 L909.12 744.79 L910.39 746.91 L911.65 749.04 L912.92 751.19 L914.18 753.35 L915.45 755.53 L916.71 757.72 L917.98 759.92 L919.24 762.13 L920.50 764.35 L921.77 766.59 L923.03 768.84 L924.29 771.10 L925.56 773.37 L926.82 775.65 L928.08 777.94 L929.35 780.24 L930.61 782.56 L931.87 784.88 L933.13 787.21 L934.39 789.55 L935.66 791.90 L936.92 794.26 L938.18 796.62 L939.44 799.00 L940.70 801.38 L941.96 803.78 L943.22 806.17 L944.48 808.58 L945.74 810.99 L947.00 813.41 L948.26 815.84 L949.52 818.27 L950.78 820.71 L952.04 823.16 L953.30 825.61 L954.55 828.07 L955.81 830.53 L957.07 832.99 L958.33 835.47 L959.58 837.94 L960.84 840.42 L962.10 842.90 L963.35 845.39 L964.61 847.88 L965.86 850.37 L967.12 852.87 L968.38 855.37 L969.63 857.87 L970.88 860.37 L972.14 862.88 L973.39 865.39 L974.65 867.90 L975.90 870.41 L977.15 872.92 L978.41 875.43 L979.66 877.94 L980.91 880.45 L982.16 882.96 L983.41 885.48 L984.67 887.99 L985.92 890.50 L987.17 893.01 L988.42 895.51 L989.67 898.02 L990.92 900.53 L992.16 903.03 L993.41 905.53 L994.66 908.03 L995.91 910.52 L997.16 913.01 L998.41 915.50 L999.65 917.99 L1000.90 920.47 L1002.14 922.95 L1003.39 925.42 L1004.64 927.89 L1005.88 930.35 L1007.13 932.81 L1008.37 935.27 L1009.61 937.71 L1010.86 940.16 L1012.10 942.59 L1013.34 945.02 L1014.59 947.45 L1015.83 949.87 L1017.07 952.28 L1018.31 954.68 L1019.55 957.07 L1020.79 959.46 L1022.03 961.84 L1023.27 964.21 L1024.51 966.58 L1025.75 968.93 L1026.99 971.28 L1028.22 973.62 L1029.46 975.94 L1030.70 978.26 L1031.93 980.57 L1033.17 982.86 L1034.41 985.15 L1035.64 987.43 L1036.87 989.69 L1038.11 991.95 L1039.34 994.19 L1040.58 996.42 L1041.81 998.64 L1043.04 1000.85 L1044.27 1003.04 L1045.50 1005.23 L1046.73 1007.39 L1047.96 1009.55 L1049.19 1011.69 L1050.42 1013.83 L1051.65 1015.94 L1052.88 1018.05 L1054.11 1020.14 L1055.34 1022.22 L1056.56 1024.29 L1057.79 1026.35 L1059.02 1028.39 L1060.24 1030.42 L1061.47 1032.44 L1062.70 1034.44 L1063.92 1036.44 L1065.15 1038.42 L1066.37 1040.38 L1067.59 1042.34 L1068.82 1044.28 L1070.04 1046.22 L1071.27 1048.14 L1072.49 1050.04 L1073.71 1051.94 L1074.94 1053.82 L1076.16 1055.69 L1077.38 1057.55 L1078.60 1059.40 L1079.83 1061.23 L1081.05 1063.06 L1082.27 1064.87 L1083.49 1066.67 L1084.72 1068.46 L1085.94 1070.23 L1087.16 1072.00 L1088.38 1073.75 L1089.60 1075.49 L1090.82 1077.22 L1092.05 1078.94 L1093.27 1080.65 L1094.49 1082.34 L1095.71 1084.02 L1096.93 1085.70 L1098.15 1087.36 L1099.38 1089.01 L1100.60 1090.64 L1101.82 1092.27 L1103.04 1093.89 L1104.26 1095.49 L1105.48 1097.08 L1106.71 1098.66 L1107.93 1100.23 L1109.15 1101.79 L1110.37 1103.34 L1111.60 1104.88 L1112.82 1106.41 L1114.04 1107.92 L1115.27 1109.43 L1116.49 1110.92 L1117.72 1112.40 L1118.94 1113.87 L1120.16 1115.33 L1121.39 1116.78 L1122.61 1118.22 L1123.84 1119.65 L1125.07 1121.07 L1126.29 1122.48 L1127.52 1123.87 L1128.74 1125.26 L1129.97 1126.64 L1131.20 1128.00 L1132.43 1129.36 L1133.65 1130.70 L1134.88 1132.03 L1136.11 1133.36 L1137.34 1134.67 L1138.57 1135.97 L1139.80 1137.27 L1141.03 1138.55 L1142.26 1139.82 L1143.50 1141.08 L1144.73 1142.34 L1145.96 1143.58 L1147.19 1144.81 L1148.43 1146.03 L1149.66 1147.24 L1150.90 1148.45 L1152.13 1149.64 L1153.37 1150.82 L1154.61 1151.99 L1155.84 1153.16 L1157.08 1154.31 L1158.32 1155.45 L1159.56 1156.58 L1160.80 1157.71 L1162.04 1158.82 L1163.28 1159.93 L1164.53 1161.02 L1165.77 1162.11 L1167.01 1163.18 L1168.26 1164.25 L1169.50 1165.31 L1170.75 1166.35 L1172.00 1167.39 L1173.24 1168.42 L1174.49 1169.44 L1175.74 1170.45 L1176.99 1171.45 L1178.24 1172.44 L1179.49 1173.42 L1180.75 1174.40 L1182.00 1175.36 L1183.25 1176.32 L1184.51 1177.26 L1185.76 1178.20 L1187.02 1179.13 L1188.28 1180.05 L1189.54 1180.96 L1190.80 1181.86 L1192.06 1182.75 L1193.32 1183.64 L1194.59 1184.51 L1195.85 1185.38 L1197.11 1186.24 L1198.38 1187.09 L1199.65 1187.93 L1200.92 1188.76 L1202.19 1189.58 L1203.46 1190.40 L1204.73 1191.21 L1206.00 1192.00 L1207.27 1192.79 L1208.55 1193.57 L1209.82 1194.35 L1211.10 1195.11 L1212.38 1195.87 L1213.66 1196.62 L1214.94 1197.36 L1216.22 1198.09 L1217.51 1198.81 L1218.79 1199.53 L1220.07 1200.24 L1221.36 1200.94 L1222.65 1201.63 L1223.94 1202.31 L1225.23 1202.99 L1226.52 1203.66 L1227.81 1204.32 L1229.10 1204.97 L1230.39 1205.61 L1231.69 1206.25 L1232.98 1206.88 L1234.28 1207.51 L1235.58 1208.12 L1236.87 1208.73 L1238.17 1209.33 L1239.47 1209.92 L1240.77 1210.51 L1242.07 1211.08 L1243.38 1211.66 L1244.68 1212.22 L1245.98 1212.78 L1247.29 1213.33 L1248.59 1213.87 L1249.90 1214.40 L1251.21 1214.93 L1252.52 1215.45 L1253.82 1215.97 L1255.13 1216.48 L1256.44 1216.98 L1257.75 1217.47 L1259.06 1217.96 L1260.38 1218.44 L1261.69 1218.92 L1263.00 1219.38 L1264.32 1219.85 L1265.63 1220.30 L1266.95 1220.75 L1268.26 1221.19 L1269.58 1221.63 L1270.90 1222.06 L1272.21 1222.48 L1273.53 1222.90 L1274.85 1223.31 L1276.17 1223.71 L1277.49 1224.11 L1278.81 1224.50 L1280.13 1224.89 L1281.45 1225.27 L1282.77 1225.64 L1284.09 1226.01 L1285.42 1226.38 L1286.74 1226.73 L1288.06 1227.08 L1289.38 1227.43 L1290.71 1227.77 L1292.03 1228.10 L1293.36 1228.43 L1294.68 1228.76 L1296.01 1229.07 L1297.33 1229.39 L1298.66 1229.69 L1299.98 1229.99 L1301.31 1230.29 L1302.64 1230.58 L1303.96 1230.87 L1305.29 1231.15 L1306.62 1231.42 L1307.95 1231.69 L1309.27 1231.96 L1310.60 1232.22 L1311.93 1232.48 L1313.26 1232.73 L1314.58 1232.97 L1315.91 1233.21 L1317.24 1233.45 L1318.57 1233.68 L1319.90 1233.91 L1321.23 1234.13 L1322.56 1234.34 L1323.88 1234.56 L1325.21 1234.77 L1326.54 1234.97 L1327.87 1235.17 L1329.20 1235.36 L1330.53 1235.55 L1331.86 1235.74 L1333.18 1235.92 L1334.51 1236.10 L1335.84 1236.27 L1337.17 1236.44 L1338.50 1236.61 L1339.83 1236.77 L1341.15 1236.93 L1342.48 1237.08 L1343.81 1237.23 L1345.14 1237.37 L1346.46 1237.52 L1347.79 1237.65 L1349.12 1237.79 L1350.44 1237.92 L1351.77 1238.04 L1353.10 1238.17 L1354.42 1238.29 L1355.75 1238.40 L1357.07 1238.52 L1358.40 1238.62 L1359.72 1238.73 L1361.05 1238.83 L1362.37 1238.93 L1363.69 1239.03 L1365.02 1239.12 L1366.34 1239.21 L1367.66 1239.30 L1368.98 1239.38 L1370.31 1239.46 L1371.63 1239.54 L1372.95 1239.61 L1374.27 1239.68 L1375.59 1239.75 L1376.91 1239.81 L1378.23 1239.88 L1379.54 1239.94 L1380.86 1239.99 L1382.18 1240.05 L1383.50 1240.10 L1384.81 1240.15 L1386.13 1240.20 L1387.44 1240.24 L1388.76 1240.28 L1390.07 1240.32 L1391.38 1240.36 L1392.69 1240.40 L1394.01 1240.43 L1395.32 1240.46 L1396.63 1240.49 L1397.94 1240.52 L1399.25 1240.54 L1400.56 1240.57 L1401.87 1240.59 L1403.17 1240.61 L1404.48 1240.63 L1405.79 1240.65 L1407.10 1240.67 L1408.40 1240.68 L1409.71 1240.70 L1411.01 1240.71 L1412.32 1240.72 L1413.62 1240.73 L1414.92 1240.75 L1416.23 1240.76 L1417.53 1240.77 L1418.83 1240.77 L1420.13 1240.78 L1421.43 1240.79 L1422.73 1240.80 L1424.03 1240.81 L1425.33 1240.81 L1426.63 1240.82 L1427.93 1240.83 L1429.23 1240.83 L1430.53 1240.84 L1431.82 1240.85 L1433.12 1240.86 L1434.42 1240.86 L1435.71 1240.87 L1437.01 1240.88 L1438.30 1240.89 L1439.60 1240.90 L1440.89 1240.91 L1442.18 1240.93 L1443.48 1240.94 L1444.77 1240.95 L1446.06 1240.97 L1447.35 1240.98 L1448.65 1241.00 L1449.94 1241.02 L1451.23 1241.04 L1452.52 1241.06 L1453.81 1241.08 L1455.10 1241.11 L1456.39 1241.14 L1457.68 1241.16 L1458.97 1241.19 L1460.25 1241.23 L1461.54 1241.26 L1462.83 1241.30 L1464.12 1241.33 L1465.40 1241.37 L1466.69 1241.42 L1467.98 1241.46 L1469.26 1241.51 L1470.55 1241.56 L1471.83 1241.61 L1473.12 1241.67 L1474.40 1241.73 L1475.69 1241.79 L1476.97 1241.85 L1478.25 1241.92 L1479.54 1241.99 L1480.82 1242.06 L1482.10 1242.14 L1483.38 1242.22 L1484.67 1242.31 L1485.95 1242.39 L1487.23 1242.48 L1488.51 1242.58 L1489.79 1242.68 L1491.07 1242.78 L1492.35 1242.88 L1493.63 1242.99 L1494.91 1243.11 L1496.19 1243.23 L1497.47 1243.35 L1498.75 1243.48 L1500.03 1243.61 L1501.31 1243.74 L1502.59 1243.88 L1503.87 1244.03 L1505.14 1244.18 L1506.42 1244.33 L1507.70 1244.49 L1508.98 1244.65 L1510.25 1244.82 L1511.53 1244.99 L1512.81 1245.17 L1514.08 1245.36 L1515.36 1245.55 L1516.64 1245.74 L1517.91 1245.94 L1519.19 1246.15 L1520.46 1246.36 L1521.74 1246.58 L1523.01 1246.80 L1524.29 1247.03 L1525.56 1247.27 L1526.84 1247.51 L1528.11 1247.75 L1529.39 1248.01 L1530.66 1248.27 L1531.94 1248.53 L1533.21 1248.80 L1534.48 1249.08 L1535.76 1249.37 L1537.03 1249.66 L1538.31 1249.96 L1539.58 1250.26 L1540.85 1250.58 L1542.13 1250.90 L1543.40 1251.22 L1544.67 1251.56 L1545.95 1251.90 L1547.22 1252.24 L1548.49 1252.60 L1549.76 1252.96 L1551.04 1253.33 L1552.31 1253.71 L1553.58 1254.10 L1554.85 1254.49 L1556.13 1254.89 L1557.40 1255.30 L1558.67 1255.72 L1559.94 1256.14 L1561.21 1256.57 L1562.49 1257.01 L1563.76 1257.46 L1565.03 1257.92 L1566.30 1258.38 L1567.57 1258.85 L1568.84 1259.32 L1570.11 1259.81 L1571.37 1260.30 L1572.64 1260.79 L1573.90 1261.29 L1575.17 1261.80 L1576.43 1262.32 L1577.70 1262.84 L1578.96 1263.37 L1580.22 1263.90 L1581.47 1264.44 L1582.73 1264.99 L1583.99 1265.54 L1585.24 1266.10 L1586.49 1266.66 L1587.74 1267.23 L1588.99 1267.80 L1590.24 1268.38 L1591.49 1268.96 L1592.73 1269.55 L1593.97 1270.14 L1595.21 1270.74 L1596.44 1271.34 L1597.68 1271.95 L1598.91 1272.56 L1600.14 1273.17 L1601.37 1273.79 L1602.59 1274.41 L1603.81 1275.04 L1605.03 1275.67 L1606.25 1276.30 L1607.46 1276.94 L1608.67 1277.58 L1609.88 1278.22 L1611.08 1278.87 L1612.29 1279.52 L1613.48 1280.17 L1614.68 1280.83 L1615.87 1281.49 L1617.06 1282.15 L1618.24 1282.81 L1619.42 1283.48 L1620.60 1284.15 L1621.77 1284.82 L1622.94 1285.49 L1624.11 1286.16 L1625.27 1286.84 L1626.43 1287.52 L1627.58 1288.20 L1628.73 1288.88 L1629.88 1289.56 L1631.02 1290.25 L1632.16 1290.93 L1633.29 1291.62 L1634.42 1292.30 L1635.54 1292.99 L1636.66 1293.68 L1637.77 1294.37 L1638.88 1295.06 L1639.99 1295.75 L1641.09 1296.44 L1642.18 1297.13 L1643.27 1297.82 L1644.35 1298.51 L1645.43 1299.20 L1646.51 1299.89 L1647.58 1300.58 L1648.64 1301.27 L1649.70 1301.95 L1650.75 1302.64 L1651.80 1303.33 L1652.84 1304.01 L1653.87 1304.70 L1654.90 1305.38 L1655.92 1306.06 L1656.94 1306.74 L1657.95 1307.42 L1658.96 1308.10 L1659.96 1308.77 L1660.95 1309.44 L1661.94 1310.12 L1662.91 1310.78 L1663.89 1311.45 L1664.86 1312.12 L1665.82 1312.78 L1666.77 1313.44 L1667.72 1314.09 L1668.66 1314.75 L1669.59 1315.40 L1670.51 1316.05 L1671.43 1316.69 L1672.34 1317.33 L1673.25 1317.97 L1674.15 1318.61 L1675.04 1319.24 L1675.92 1319.87 L1676.79 1320.49 L1677.66 1321.11 L1678.52 1321.73 L1679.37 1322.34 L1680.22 1322.95 L1681.06 1323.55 L1681.88 1324.15 L1682.71 1324.74 L1683.52 1325.33 L1684.32 1325.92 L1685.12 1326.49 L1685.91 1327.07 L1686.69 1327.64 L1687.46 1328.20 L1688.22 1328.76 L1688.98 1329.31 L1689.72 1329.86 L1690.46 1330.40 L1691.19 1330.94 L1691.91 1331.47 L1692.62 1331.99 L1693.32 1332.51 L1694.01 1333.02 L1694.70 1333.53 L1695.37 1334.03 L1696.03 1334.52 L1696.69 1335.00 L1697.34 1335.48 L1697.97 1335.95 L1698.60 1336.42 L1699.22 1336.88 L1699.83 1337.33 L1700.43 1337.77 L1701.02 1338.21 L1701.60 1338.64 L1702.17 1339.06 L1702.73 1339.48 L1703.29 1339.89 L1703.83 1340.29 L1704.37 1340.69 L1704.90 1341.08 L1705.42 1341.46 L1705.93 1341.84 L1706.43 1342.21 L1706.92 1342.58 L1707.41 1342.94 L1707.88 1343.29 L1708.35 1343.64 L1708.81 1343.98 L1709.26 1344.31 L1709.71 1344.64 L1710.14 1344.96 L1710.57 1345.28 L1710.99 1345.59 L1711.41 1345.90 L1711.81 1346.20 L1712.21 1346.49 L1712.60 1346.78 L1712.98 1347.06 L1713.36 1347.34 L1713.73 1347.61 L1714.09 1347.88 L1714.44 1348.14 L1714.79 1348.40 L1715.13 1348.65 L1715.46 1348.90 L1715.79 1349.14 L1716.11 1349.38 L1716.42 1349.61 L1716.72 1349.83 L1717.02 1350.05 L1717.32 1350.27 L1717.60 1350.48 L1717.88 1350.69 L1718.16 1350.89 L1718.42 1351.09 L1718.68 1351.28 L1718.94 1351.47 L1719.19 1351.66 L1719.43 1351.84 L1719.67 1352.01 L1719.90 1352.19 L1720.13 1352.35 L1720.35 1352.52 L1720.56 1352.67 L1720.77 1352.83 L1720.97 1352.98 L1721.17 1353.13 L1721.37 1353.27 L1721.55 1353.41 L1721.74 1353.54 L1721.91 1353.68 L1722.09 1353.80 L1722.25 1353.93 L1722.42 1354.05 L1722.58 1354.16 L1722.73 1354.28 L1722.88 1354.39 L1723.02 1354.50 L1723.16 1354.60 L1723.30 1354.70 L1723.43 1354.80 L1723.55 1354.89 L1723.68 1354.98 L1723.79 1355.07 L1723.91 1355.15 L1724.02 1355.23 L1724.12 1355.31 L1724.23 1355.39 L1724.32 1355.46 L1724.42 1355.53 L1724.51 1355.60 L1724.60 1355.66 L1724.68 1355.72 L1724.76 1355.78 L1724.84 1355.84 L1724.91 1355.90 L1724.99 1355.95 L1725.05 1356.00 L1725.12 1356.05 L1725.18 1356.09 L1725.24 1356.14 L1725.29 1356.18 L1725.35 1356.22 L1725.40 1356.25 L1725.44 1356.29 L1725.49 1356.32 L1725.53 1356.35 L1725.57 1356.38 L1725.61 1356.41 L1725.65 1356.44 L1725.68 1356.46 L1725.71 1356.48 L1725.74 1356.51 L1725.77 1356.53 L1725.79 1356.55 L1725.81 1356.56 L1725.84 1356.58 L1725.86 1356.59 L1725.87 1356.61 L1725.89 1356.62 L1725.90 1356.63 L1725.92 1356.64 L1725.93 1356.65 L1725.94 1356.66 L1725.95 1356.66 L1725.96 1356.67 L1725.97 1356.68 L1725.97 1356.68 L1725.98 1356.68 L1725.98 1356.69 L1725.99 1356.69 L1725.99 1356.69 L1725.99 1356.70 L1726.00 1356.70 L1726.00 1356.70 L1726.00 1356.70 L1726.00 1356.70 L1726.00 1356.70 L1726.00 1356.70 L1726.00 1356.70 L1726.00 1356.70" fill="none" stroke="#fff" stroke-width="7" stroke-linecap="round" stroke-linejoin="round"/>
<g fill="#000" shape-rendering="crispEdges"><rect x="1061" y="252" width="313" height="2"/><rect x="1061" y="529" width="313" height="3"/><rect x="1061" y="252" width="3" height="280"/><rect x="1371" y="252" width="3" height="280"/></g>
<line x1="1072.5" y1="302.5" x2="1234.5" y2="302.5" stroke="#f00" stroke-width="7" stroke-linecap="round"/>
<line x1="1072.5" y1="391.5" x2="1234.5" y2="391.5" stroke="#00f" stroke-width="7" stroke-linecap="round"/>
<line x1="1072.5" y1="480.5" x2="1234.5" y2="480.5" stroke="#000" stroke-width="7" stroke-linecap="round"/>
<rect x="1138" y="286.8" width="30" height="30" fill="#f00"/>
<circle cx="1153" cy="391.5" r="16.5" fill="#00f"/>
<path d="M1153.6 449.6L1180.5 497L1126.7 497Z" fill="#000"/>
<text transform="translate(1253.00,327.00) scale(1,1.024)" font-size="74.00">SP</text>
<text transform="translate(1253.00,416.00) scale(1,1.024)" font-size="74.00">RO</text>
<text transform="translate(1253.00,505.00) scale(1,1.024)" font-size="74.00">CU</text>
</svg></body></html>
